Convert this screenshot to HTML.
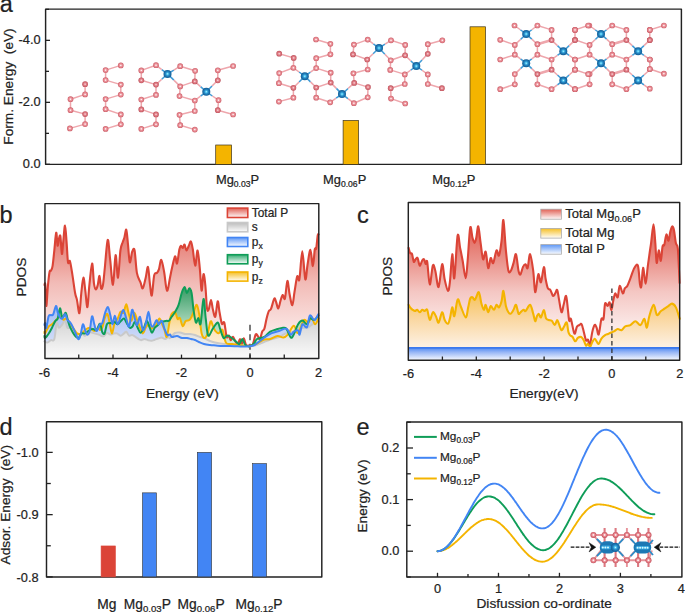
<!DOCTYPE html>
<html><head><meta charset="utf-8"><title>Figure</title>
<style>html,body{margin:0;padding:0;background:#fff;}svg{display:block;}text{font-family:"Liberation Sans",sans-serif;stroke:#222;stroke-width:0.22px;}</style>
</head><body><svg width="685" height="613" viewBox="0 0 685 613" font-family="Liberation Sans, sans-serif"><defs><radialGradient id="atomP" cx="50%" cy="50%" r="50%" fx="50%" fy="50%"><stop offset="0" stop-color="#ffffff"/><stop offset="0.16" stop-color="#fbe0e3"/><stop offset="0.36" stop-color="#ef9fa6"/><stop offset="0.76" stop-color="#e07a83"/><stop offset="1" stop-color="#c95b65"/></radialGradient><radialGradient id="atomPd" cx="50%" cy="50%" r="50%" fx="50%" fy="50%"><stop offset="0" stop-color="#fdecee"/><stop offset="0.2" stop-color="#f1b2b8"/><stop offset="0.42" stop-color="#e2838c"/><stop offset="0.8" stop-color="#d2666f"/><stop offset="1" stop-color="#b84c56"/></radialGradient><radialGradient id="atomP2" cx="50%" cy="50%" r="50%" fx="50%" fy="50%"><stop offset="0" stop-color="#ffffff"/><stop offset="0.2" stop-color="#fbe0e3"/><stop offset="0.42" stop-color="#ec969d"/><stop offset="0.78" stop-color="#d96a74"/><stop offset="1" stop-color="#bd4a55"/></radialGradient><radialGradient id="atomMg" cx="50%" cy="50%" r="50%" fx="50%" fy="50%"><stop offset="0" stop-color="#d8fbff"/><stop offset="0.18" stop-color="#5ccdf3"/><stop offset="0.5" stop-color="#2489c6"/><stop offset="1" stop-color="#125a92"/></radialGradient><linearGradient id="gbR" gradientUnits="userSpaceOnUse" x1="0" y1="218" x2="0" y2="348"><stop offset="0" stop-color="#DB4437" stop-opacity="0.86"/><stop offset="0.5" stop-color="#DB4437" stop-opacity="0.36"/><stop offset="1" stop-color="#DB4437" stop-opacity="0.05"/></linearGradient><linearGradient id="gbB" gradientUnits="userSpaceOnUse" x1="0" y1="306" x2="0" y2="358"><stop offset="0" stop-color="#a4bcf3" stop-opacity="1"/><stop offset="1" stop-color="#e6ecfb" stop-opacity="1"/></linearGradient><linearGradient id="gbG" gradientUnits="userSpaceOnUse" x1="0" y1="287" x2="0" y2="358"><stop offset="0" stop-color="#349a63" stop-opacity="1"/><stop offset="0.55" stop-color="#b3dcc2" stop-opacity="1"/><stop offset="1" stop-color="#f2f9f4" stop-opacity="1"/></linearGradient><linearGradient id="gbY" gradientUnits="userSpaceOnUse" x1="0" y1="304" x2="0" y2="358"><stop offset="0" stop-color="#f8c85a" stop-opacity="1"/><stop offset="0.5" stop-color="#fce6bd" stop-opacity="1"/><stop offset="1" stop-color="#fef8ee" stop-opacity="1"/></linearGradient><linearGradient id="gbS" gradientUnits="userSpaceOnUse" x1="0" y1="320" x2="0" y2="358"><stop offset="0" stop-color="#d4d4d4" stop-opacity="1"/><stop offset="1" stop-color="#fbfbfb" stop-opacity="1"/></linearGradient><linearGradient id="gcR" gradientUnits="userSpaceOnUse" x1="0" y1="218" x2="0" y2="352"><stop offset="0" stop-color="#DB4437" stop-opacity="0.92"/><stop offset="0.3" stop-color="#DB4437" stop-opacity="0.6"/><stop offset="0.55" stop-color="#DB4437" stop-opacity="0.3"/><stop offset="0.8" stop-color="#DB4437" stop-opacity="0.12"/><stop offset="1" stop-color="#DB4437" stop-opacity="0.04"/></linearGradient><linearGradient id="gcY" gradientUnits="userSpaceOnUse" x1="0" y1="291" x2="0" y2="360"><stop offset="0" stop-color="#f6c052" stop-opacity="1"/><stop offset="0.4" stop-color="#fad7a0" stop-opacity="1"/><stop offset="0.8" stop-color="#fdf0e2" stop-opacity="1"/><stop offset="1" stop-color="#fffaf5" stop-opacity="1"/></linearGradient><linearGradient id="gcB" gradientUnits="userSpaceOnUse" x1="0" y1="347" x2="0" y2="360"><stop offset="0" stop-color="#4482f1" stop-opacity="1"/><stop offset="0.4" stop-color="#97b6f6" stop-opacity="1"/><stop offset="1" stop-color="#f6f8fe" stop-opacity="1"/></linearGradient><linearGradient id="lgR" x1="0" y1="0" x2="0" y2="1"><stop offset="0" stop-color="#DB4437" stop-opacity="0.85"/><stop offset="1" stop-color="#DB4437" stop-opacity="0.02"/></linearGradient><linearGradient id="lgS" x1="0" y1="0" x2="0" y2="1"><stop offset="0" stop-color="#b0b0b0" stop-opacity="0.85"/><stop offset="1" stop-color="#b0b0b0" stop-opacity="0.02"/></linearGradient><linearGradient id="lgB" x1="0" y1="0" x2="0" y2="1"><stop offset="0" stop-color="#4285F4" stop-opacity="0.85"/><stop offset="1" stop-color="#4285F4" stop-opacity="0.02"/></linearGradient><linearGradient id="lgG" x1="0" y1="0" x2="0" y2="1"><stop offset="0" stop-color="#0F9D58" stop-opacity="0.85"/><stop offset="1" stop-color="#0F9D58" stop-opacity="0.02"/></linearGradient><linearGradient id="lgY" x1="0" y1="0" x2="0" y2="1"><stop offset="0" stop-color="#F4B400" stop-opacity="0.85"/><stop offset="1" stop-color="#F4B400" stop-opacity="0.02"/></linearGradient></defs><text x="-0.2" y="12.3" font-size="23.5" text-anchor="start" fill="#222222" >a</text>
<polyline points="85.1,84.2 85.1,94.4 70.5,99.2 70.5,110.2 85.1,114.1 85.1,124.1 69.9,128.4" fill="none" stroke="#eea6ac" stroke-width="1.5" stroke-linejoin="round"/>
<polyline points="120.8,65.4 105.6,70.1 105.6,80.1 120.8,84.6 120.8,94.6 105.6,99.1 105.6,109.2 120.8,114.4 120.8,124.3 105.6,128.9" fill="none" stroke="#eea6ac" stroke-width="1.5" stroke-linejoin="round"/>
<polyline points="156,65.2 141.3,70.4 141.3,80.3 156,84.6 156,94.9 141.3,99.5 141.3,109.4 156,114.4 156,124.3 141.3,128.9" fill="none" stroke="#eea6ac" stroke-width="1.5" stroke-linejoin="round"/>
<polyline points="180.2,66.2 195.1,70.8 194.8,81.4 180.2,86.4 179.5,96.1 194.8,100.5 194.8,111 179.5,114.8 180.2,125.2 194.8,129.6" fill="none" stroke="#eea6ac" stroke-width="1.5" stroke-linejoin="round"/>
<polyline points="233.1,66 217.8,70.3 217.8,80.3" fill="none" stroke="#eea6ac" stroke-width="1.5" stroke-linejoin="round"/>
<polyline points="218.5,100.2 217.8,110.2 233.1,114.5" fill="none" stroke="#eea6ac" stroke-width="1.5" stroke-linejoin="round"/>
<line x1="167.5" y1="73.9" x2="161.75" y2="69.55" stroke="#3f9bd6" stroke-width="1.5" />
<line x1="161.75" y1="69.55" x2="156" y2="65.2" stroke="#eea6ac" stroke-width="1.5" />
<line x1="167.5" y1="73.9" x2="161.75" y2="79.25" stroke="#3f9bd6" stroke-width="1.5" />
<line x1="161.75" y1="79.25" x2="156" y2="84.6" stroke="#eea6ac" stroke-width="1.5" />
<line x1="167.5" y1="73.9" x2="173.85" y2="70.05" stroke="#3f9bd6" stroke-width="1.5" />
<line x1="173.85" y1="70.05" x2="180.2" y2="66.2" stroke="#eea6ac" stroke-width="1.5" />
<line x1="167.5" y1="73.9" x2="173.85" y2="80.15" stroke="#3f9bd6" stroke-width="1.5" />
<line x1="173.85" y1="80.15" x2="180.2" y2="86.4" stroke="#eea6ac" stroke-width="1.5" />
<line x1="206.3" y1="91.8" x2="200.55" y2="86.6" stroke="#3f9bd6" stroke-width="1.5" />
<line x1="200.55" y1="86.6" x2="194.8" y2="81.4" stroke="#eea6ac" stroke-width="1.5" />
<line x1="206.3" y1="91.8" x2="200.55" y2="96.15" stroke="#3f9bd6" stroke-width="1.5" />
<line x1="200.55" y1="96.15" x2="194.8" y2="100.5" stroke="#eea6ac" stroke-width="1.5" />
<line x1="206.3" y1="91.8" x2="212.05" y2="86.05" stroke="#3f9bd6" stroke-width="1.5" />
<line x1="212.05" y1="86.05" x2="217.8" y2="80.3" stroke="#eea6ac" stroke-width="1.5" />
<line x1="206.3" y1="91.8" x2="212.4" y2="96" stroke="#3f9bd6" stroke-width="1.5" />
<line x1="212.4" y1="96" x2="218.5" y2="100.2" stroke="#eea6ac" stroke-width="1.5" />
<circle cx="85.1" cy="84.2" r="2.85" fill="url(#atomPd)"/>
<circle cx="85.1" cy="94.4" r="2.85" fill="url(#atomP)"/>
<circle cx="70.5" cy="99.2" r="2.85" fill="url(#atomP)"/>
<circle cx="70.5" cy="110.2" r="2.85" fill="url(#atomP)"/>
<circle cx="85.1" cy="114.1" r="2.85" fill="url(#atomPd)"/>
<circle cx="85.1" cy="124.1" r="2.85" fill="url(#atomP)"/>
<circle cx="69.9" cy="128.4" r="2.85" fill="url(#atomP)"/>
<circle cx="120.8" cy="65.4" r="2.85" fill="url(#atomP)"/>
<circle cx="105.6" cy="70.1" r="2.85" fill="url(#atomP)"/>
<circle cx="105.6" cy="80.1" r="2.85" fill="url(#atomP)"/>
<circle cx="120.8" cy="84.6" r="2.85" fill="url(#atomP)"/>
<circle cx="120.8" cy="94.6" r="2.85" fill="url(#atomP)"/>
<circle cx="105.6" cy="99.1" r="2.85" fill="url(#atomP)"/>
<circle cx="105.6" cy="109.2" r="2.85" fill="url(#atomP)"/>
<circle cx="120.8" cy="114.4" r="2.85" fill="url(#atomP)"/>
<circle cx="120.8" cy="124.3" r="2.85" fill="url(#atomP)"/>
<circle cx="105.6" cy="128.9" r="2.85" fill="url(#atomP)"/>
<circle cx="156" cy="65.2" r="2.85" fill="url(#atomP)"/>
<circle cx="141.3" cy="70.4" r="2.85" fill="url(#atomP)"/>
<circle cx="141.3" cy="80.3" r="2.85" fill="url(#atomPd)"/>
<circle cx="156" cy="84.6" r="2.85" fill="url(#atomPd)"/>
<circle cx="156" cy="94.9" r="2.85" fill="url(#atomP)"/>
<circle cx="141.3" cy="99.5" r="2.85" fill="url(#atomP)"/>
<circle cx="141.3" cy="109.4" r="2.85" fill="url(#atomPd)"/>
<circle cx="156" cy="114.4" r="2.85" fill="url(#atomPd)"/>
<circle cx="156" cy="124.3" r="2.85" fill="url(#atomP)"/>
<circle cx="141.3" cy="128.9" r="2.85" fill="url(#atomP)"/>
<circle cx="180.2" cy="66.2" r="2.85" fill="url(#atomP)"/>
<circle cx="195.1" cy="70.8" r="2.85" fill="url(#atomP)"/>
<circle cx="194.8" cy="81.4" r="2.85" fill="url(#atomPd)"/>
<circle cx="180.2" cy="86.4" r="2.85" fill="url(#atomP)"/>
<circle cx="179.5" cy="96.1" r="2.85" fill="url(#atomP)"/>
<circle cx="194.8" cy="100.5" r="2.85" fill="url(#atomP)"/>
<circle cx="194.8" cy="111" r="2.85" fill="url(#atomP)"/>
<circle cx="179.5" cy="114.8" r="2.85" fill="url(#atomP)"/>
<circle cx="180.2" cy="125.2" r="2.85" fill="url(#atomP)"/>
<circle cx="194.8" cy="129.6" r="2.85" fill="url(#atomP)"/>
<circle cx="233.1" cy="66" r="2.85" fill="url(#atomP)"/>
<circle cx="217.8" cy="70.3" r="2.85" fill="url(#atomP)"/>
<circle cx="217.8" cy="80.3" r="2.85" fill="url(#atomPd)"/>
<circle cx="218.5" cy="100.2" r="2.85" fill="url(#atomP)"/>
<circle cx="217.8" cy="110.2" r="2.85" fill="url(#atomPd)"/>
<circle cx="233.1" cy="114.5" r="2.85" fill="url(#atomP)"/>
<circle cx="167.5" cy="73.9" r="4.0" fill="url(#atomMg)"/>
<circle cx="206.3" cy="91.8" r="4.0" fill="url(#atomMg)"/>
<polyline points="279.2,53.7 293.7,57.9 293.4,67.8 279.2,73.1 278.9,83.2 293.4,87.8 293.4,97.7 278.9,101.6" fill="none" stroke="#eea6ac" stroke-width="1.5" stroke-linejoin="round"/>
<polyline points="316,39.5 330.4,43.8 330.4,54.3 316.2,58.2 316.2,68.1 330.7,72.7 330.7,82.6 316.2,87.5 316.2,97.7 330.2,102.3" fill="none" stroke="#eea6ac" stroke-width="1.5" stroke-linejoin="round"/>
<polyline points="367.7,39.6 353.9,44.6 353,54.4 367.2,59.5 367.7,69.5 353.4,73.3 354.2,82.9 368,87.1 367.7,97.3 353.9,103.2" fill="none" stroke="#eea6ac" stroke-width="1.5" stroke-linejoin="round"/>
<polyline points="391,40.3 405.2,44.9 405.1,55.3 390.7,60.3 390.2,69.9 404.8,74.4 404.8,84 390.7,88.2 391,98.6 405.2,103.5" fill="none" stroke="#eea6ac" stroke-width="1.5" stroke-linejoin="round"/>
<polyline points="442.3,40.3 427.8,44.2 427.8,53.8" fill="none" stroke="#eea6ac" stroke-width="1.5" stroke-linejoin="round"/>
<polyline points="427.8,74.4 427.8,84 441.9,88.2" fill="none" stroke="#eea6ac" stroke-width="1.5" stroke-linejoin="round"/>
<line x1="304.8" y1="76.2" x2="299.1" y2="72" stroke="#3f9bd6" stroke-width="1.5" />
<line x1="299.1" y1="72" x2="293.4" y2="67.8" stroke="#eea6ac" stroke-width="1.5" />
<line x1="304.8" y1="76.2" x2="310.5" y2="72.15" stroke="#3f9bd6" stroke-width="1.5" />
<line x1="310.5" y1="72.15" x2="316.2" y2="68.1" stroke="#eea6ac" stroke-width="1.5" />
<line x1="304.8" y1="76.2" x2="299.1" y2="82" stroke="#3f9bd6" stroke-width="1.5" />
<line x1="299.1" y1="82" x2="293.4" y2="87.8" stroke="#eea6ac" stroke-width="1.5" />
<line x1="304.8" y1="76.2" x2="310.5" y2="81.85" stroke="#3f9bd6" stroke-width="1.5" />
<line x1="310.5" y1="81.85" x2="316.2" y2="87.5" stroke="#eea6ac" stroke-width="1.5" />
<line x1="342" y1="94.1" x2="336.35" y2="88.35" stroke="#3f9bd6" stroke-width="1.5" />
<line x1="336.35" y1="88.35" x2="330.7" y2="82.6" stroke="#eea6ac" stroke-width="1.5" />
<line x1="342" y1="94.1" x2="348.1" y2="88.5" stroke="#3f9bd6" stroke-width="1.5" />
<line x1="348.1" y1="88.5" x2="354.2" y2="82.9" stroke="#eea6ac" stroke-width="1.5" />
<line x1="342" y1="94.1" x2="336.1" y2="98.2" stroke="#3f9bd6" stroke-width="1.5" />
<line x1="336.1" y1="98.2" x2="330.2" y2="102.3" stroke="#eea6ac" stroke-width="1.5" />
<line x1="342" y1="94.1" x2="347.95" y2="98.65" stroke="#3f9bd6" stroke-width="1.5" />
<line x1="347.95" y1="98.65" x2="353.9" y2="103.2" stroke="#eea6ac" stroke-width="1.5" />
<line x1="379" y1="48" x2="373.35" y2="43.8" stroke="#3f9bd6" stroke-width="1.5" />
<line x1="373.35" y1="43.8" x2="367.7" y2="39.6" stroke="#eea6ac" stroke-width="1.5" />
<line x1="379" y1="48" x2="373.1" y2="53.75" stroke="#3f9bd6" stroke-width="1.5" />
<line x1="373.1" y1="53.75" x2="367.2" y2="59.5" stroke="#eea6ac" stroke-width="1.5" />
<line x1="379" y1="48" x2="385" y2="44.15" stroke="#3f9bd6" stroke-width="1.5" />
<line x1="385" y1="44.15" x2="391" y2="40.3" stroke="#eea6ac" stroke-width="1.5" />
<line x1="379" y1="48" x2="384.85" y2="54.15" stroke="#3f9bd6" stroke-width="1.5" />
<line x1="384.85" y1="54.15" x2="390.7" y2="60.3" stroke="#eea6ac" stroke-width="1.5" />
<line x1="416.3" y1="66.1" x2="410.7" y2="60.7" stroke="#3f9bd6" stroke-width="1.5" />
<line x1="410.7" y1="60.7" x2="405.1" y2="55.3" stroke="#eea6ac" stroke-width="1.5" />
<line x1="416.3" y1="66.1" x2="410.55" y2="70.25" stroke="#3f9bd6" stroke-width="1.5" />
<line x1="410.55" y1="70.25" x2="404.8" y2="74.4" stroke="#eea6ac" stroke-width="1.5" />
<line x1="416.3" y1="66.1" x2="422.05" y2="59.95" stroke="#3f9bd6" stroke-width="1.5" />
<line x1="422.05" y1="59.95" x2="427.8" y2="53.8" stroke="#eea6ac" stroke-width="1.5" />
<line x1="416.3" y1="66.1" x2="422.05" y2="70.25" stroke="#3f9bd6" stroke-width="1.5" />
<line x1="422.05" y1="70.25" x2="427.8" y2="74.4" stroke="#eea6ac" stroke-width="1.5" />
<circle cx="279.2" cy="53.7" r="2.85" fill="url(#atomPd)"/>
<circle cx="293.7" cy="57.9" r="2.85" fill="url(#atomPd)"/>
<circle cx="293.4" cy="67.8" r="2.85" fill="url(#atomP)"/>
<circle cx="279.2" cy="73.1" r="2.85" fill="url(#atomP)"/>
<circle cx="278.9" cy="83.2" r="2.85" fill="url(#atomP)"/>
<circle cx="293.4" cy="87.8" r="2.85" fill="url(#atomPd)"/>
<circle cx="293.4" cy="97.7" r="2.85" fill="url(#atomP)"/>
<circle cx="278.9" cy="101.6" r="2.85" fill="url(#atomP)"/>
<circle cx="316" cy="39.5" r="2.85" fill="url(#atomP)"/>
<circle cx="330.4" cy="43.8" r="2.85" fill="url(#atomP)"/>
<circle cx="330.4" cy="54.3" r="2.85" fill="url(#atomP)"/>
<circle cx="316.2" cy="58.2" r="2.85" fill="url(#atomP)"/>
<circle cx="316.2" cy="68.1" r="2.85" fill="url(#atomP)"/>
<circle cx="330.7" cy="72.7" r="2.85" fill="url(#atomP)"/>
<circle cx="330.7" cy="82.6" r="2.85" fill="url(#atomPd)"/>
<circle cx="316.2" cy="87.5" r="2.85" fill="url(#atomPd)"/>
<circle cx="316.2" cy="97.7" r="2.85" fill="url(#atomP)"/>
<circle cx="330.2" cy="102.3" r="2.85" fill="url(#atomP)"/>
<circle cx="367.7" cy="39.6" r="2.85" fill="url(#atomP)"/>
<circle cx="353.9" cy="44.6" r="2.85" fill="url(#atomP)"/>
<circle cx="353" cy="54.4" r="2.85" fill="url(#atomPd)"/>
<circle cx="367.2" cy="59.5" r="2.85" fill="url(#atomPd)"/>
<circle cx="367.7" cy="69.5" r="2.85" fill="url(#atomP)"/>
<circle cx="353.4" cy="73.3" r="2.85" fill="url(#atomP)"/>
<circle cx="354.2" cy="82.9" r="2.85" fill="url(#atomPd)"/>
<circle cx="368" cy="87.1" r="2.85" fill="url(#atomPd)"/>
<circle cx="367.7" cy="97.3" r="2.85" fill="url(#atomP)"/>
<circle cx="353.9" cy="103.2" r="2.85" fill="url(#atomP)"/>
<circle cx="391" cy="40.3" r="2.85" fill="url(#atomP)"/>
<circle cx="405.2" cy="44.9" r="2.85" fill="url(#atomP)"/>
<circle cx="405.1" cy="55.3" r="2.85" fill="url(#atomPd)"/>
<circle cx="390.7" cy="60.3" r="2.85" fill="url(#atomP)"/>
<circle cx="390.2" cy="69.9" r="2.85" fill="url(#atomP)"/>
<circle cx="404.8" cy="74.4" r="2.85" fill="url(#atomP)"/>
<circle cx="404.8" cy="84" r="2.85" fill="url(#atomP)"/>
<circle cx="390.7" cy="88.2" r="2.85" fill="url(#atomPd)"/>
<circle cx="391" cy="98.6" r="2.85" fill="url(#atomP)"/>
<circle cx="405.2" cy="103.5" r="2.85" fill="url(#atomP)"/>
<circle cx="442.3" cy="40.3" r="2.85" fill="url(#atomP)"/>
<circle cx="427.8" cy="44.2" r="2.85" fill="url(#atomP)"/>
<circle cx="427.8" cy="53.8" r="2.85" fill="url(#atomPd)"/>
<circle cx="427.8" cy="74.4" r="2.85" fill="url(#atomP)"/>
<circle cx="427.8" cy="84" r="2.85" fill="url(#atomP)"/>
<circle cx="441.9" cy="88.2" r="2.85" fill="url(#atomPd)"/>
<circle cx="304.8" cy="76.2" r="4.0" fill="url(#atomMg)"/>
<circle cx="342" cy="94.1" r="4.0" fill="url(#atomMg)"/>
<circle cx="379" cy="48" r="4.0" fill="url(#atomMg)"/>
<circle cx="416.3" cy="66.1" r="4.0" fill="url(#atomMg)"/>
<polyline points="514.5,25.5" fill="none" stroke="#eea6ac" stroke-width="1.5" stroke-linejoin="round"/>
<polyline points="537.4,25.5 551.6,29.9 551.6,40.1 537.4,44.2 537.4,54.7 551.6,59.5 551.6,69.7 537.4,74.1 537.4,84.3 551.6,89.2" fill="none" stroke="#eea6ac" stroke-width="1.5" stroke-linejoin="round"/>
<polyline points="500.2,39.8 514.8,44.9 514.8,54.7 500.2,59.5" fill="none" stroke="#eea6ac" stroke-width="1.5" stroke-linejoin="round"/>
<polyline points="514.8,74.1 514.8,84.3 500.2,89.2" fill="none" stroke="#eea6ac" stroke-width="1.5" stroke-linejoin="round"/>
<polyline points="589.3,25.5" fill="none" stroke="#eea6ac" stroke-width="1.5" stroke-linejoin="round"/>
<polyline points="612.2,25.5 626.4,29.9 626.4,40.1 612.2,44.2 612.2,54.7 626.4,59.5 626.4,69.7 612.2,74.1 612.2,84.3 626.4,89.2" fill="none" stroke="#eea6ac" stroke-width="1.5" stroke-linejoin="round"/>
<polyline points="575,39.8 589.6,44.9 589.6,54.7 575,59.5" fill="none" stroke="#eea6ac" stroke-width="1.5" stroke-linejoin="round"/>
<polyline points="589.6,74.1 589.6,84.3 575,89.2" fill="none" stroke="#eea6ac" stroke-width="1.5" stroke-linejoin="round"/>
<polyline points="575,29.9 588.1,25.5" fill="none" stroke="#eea6ac" stroke-width="1.5" stroke-linejoin="round"/>
<polyline points="649.8,29.9 663.9,25.5" fill="none" stroke="#eea6ac" stroke-width="1.5" stroke-linejoin="round"/>
<polyline points="575,69.7 588.1,74.1" fill="none" stroke="#eea6ac" stroke-width="1.5" stroke-linejoin="round"/>
<polyline points="649.8,69 663.9,73.7" fill="none" stroke="#eea6ac" stroke-width="1.5" stroke-linejoin="round"/>
<polyline points="649.8,29.9 649.8,40.1" fill="none" stroke="#eea6ac" stroke-width="1.5" stroke-linejoin="round"/>
<polyline points="649.8,59.5 649.8,69" fill="none" stroke="#eea6ac" stroke-width="1.5" stroke-linejoin="round"/>
<polyline points="575,29.9 575,40.1" fill="none" stroke="#eea6ac" stroke-width="1.5" stroke-linejoin="round"/>
<polyline points="575,59.5 575,69.7" fill="none" stroke="#eea6ac" stroke-width="1.5" stroke-linejoin="round"/>
<polyline points="649.8,88.7" fill="none" stroke="#eea6ac" stroke-width="1.5" stroke-linejoin="round"/>
<polyline points="575,89.2" fill="none" stroke="#eea6ac" stroke-width="1.5" stroke-linejoin="round"/>
<polyline points="649.8,40.1" fill="none" stroke="#eea6ac" stroke-width="1.5" stroke-linejoin="round"/>
<polyline points="649.8,59.5" fill="none" stroke="#eea6ac" stroke-width="1.5" stroke-linejoin="round"/>
<line x1="537.4" y1="44.2" x2="551.6" y2="40.1" stroke="#eea6ac" stroke-width="2.6" />
<line x1="537.4" y1="74.1" x2="551.6" y2="69.7" stroke="#eea6ac" stroke-width="2.6" />
<line x1="612.2" y1="44.2" x2="626.4" y2="40.1" stroke="#eea6ac" stroke-width="2.6" />
<line x1="612.2" y1="74.1" x2="626.4" y2="69.7" stroke="#eea6ac" stroke-width="2.6" />
<line x1="526.2" y1="34" x2="520.35" y2="29.75" stroke="#3f9bd6" stroke-width="1.5" />
<line x1="520.35" y1="29.75" x2="514.5" y2="25.5" stroke="#eea6ac" stroke-width="1.5" />
<line x1="526.2" y1="34" x2="531.8" y2="29.75" stroke="#3f9bd6" stroke-width="1.5" />
<line x1="531.8" y1="29.75" x2="537.4" y2="25.5" stroke="#eea6ac" stroke-width="1.5" />
<line x1="526.2" y1="34" x2="520.5" y2="39.45" stroke="#3f9bd6" stroke-width="1.5" />
<line x1="520.5" y1="39.45" x2="514.8" y2="44.9" stroke="#eea6ac" stroke-width="1.5" />
<line x1="526.2" y1="34" x2="531.8" y2="39.1" stroke="#3f9bd6" stroke-width="1.5" />
<line x1="531.8" y1="39.1" x2="537.4" y2="44.2" stroke="#eea6ac" stroke-width="1.5" />
<line x1="526.2" y1="63.2" x2="520.5" y2="58.95" stroke="#3f9bd6" stroke-width="1.5" />
<line x1="520.5" y1="58.95" x2="514.8" y2="54.7" stroke="#eea6ac" stroke-width="1.5" />
<line x1="526.2" y1="63.2" x2="531.8" y2="58.95" stroke="#3f9bd6" stroke-width="1.5" />
<line x1="531.8" y1="58.95" x2="537.4" y2="54.7" stroke="#eea6ac" stroke-width="1.5" />
<line x1="526.2" y1="63.2" x2="520.5" y2="68.65" stroke="#3f9bd6" stroke-width="1.5" />
<line x1="520.5" y1="68.65" x2="514.8" y2="74.1" stroke="#eea6ac" stroke-width="1.5" />
<line x1="526.2" y1="63.2" x2="531.8" y2="68.65" stroke="#3f9bd6" stroke-width="1.5" />
<line x1="531.8" y1="68.65" x2="537.4" y2="74.1" stroke="#eea6ac" stroke-width="1.5" />
<line x1="563.3" y1="51.2" x2="557.45" y2="45.65" stroke="#3f9bd6" stroke-width="1.5" />
<line x1="557.45" y1="45.65" x2="551.6" y2="40.1" stroke="#eea6ac" stroke-width="1.5" />
<line x1="563.3" y1="51.2" x2="569.15" y2="45.65" stroke="#3f9bd6" stroke-width="1.5" />
<line x1="569.15" y1="45.65" x2="575" y2="40.1" stroke="#eea6ac" stroke-width="1.5" />
<line x1="563.3" y1="51.2" x2="557.45" y2="55.35" stroke="#3f9bd6" stroke-width="1.5" />
<line x1="557.45" y1="55.35" x2="551.6" y2="59.5" stroke="#eea6ac" stroke-width="1.5" />
<line x1="563.3" y1="51.2" x2="569.15" y2="55.35" stroke="#3f9bd6" stroke-width="1.5" />
<line x1="569.15" y1="55.35" x2="575" y2="59.5" stroke="#eea6ac" stroke-width="1.5" />
<line x1="563.3" y1="80.4" x2="557.45" y2="75.05" stroke="#3f9bd6" stroke-width="1.5" />
<line x1="557.45" y1="75.05" x2="551.6" y2="69.7" stroke="#eea6ac" stroke-width="1.5" />
<line x1="563.3" y1="80.4" x2="569.15" y2="75.05" stroke="#3f9bd6" stroke-width="1.5" />
<line x1="569.15" y1="75.05" x2="575" y2="69.7" stroke="#eea6ac" stroke-width="1.5" />
<line x1="563.3" y1="80.4" x2="557.45" y2="84.8" stroke="#3f9bd6" stroke-width="1.5" />
<line x1="557.45" y1="84.8" x2="551.6" y2="89.2" stroke="#eea6ac" stroke-width="1.5" />
<line x1="563.3" y1="80.4" x2="569.15" y2="84.8" stroke="#3f9bd6" stroke-width="1.5" />
<line x1="569.15" y1="84.8" x2="575" y2="89.2" stroke="#eea6ac" stroke-width="1.5" />
<line x1="601" y1="34" x2="595.15" y2="29.75" stroke="#3f9bd6" stroke-width="1.5" />
<line x1="595.15" y1="29.75" x2="589.3" y2="25.5" stroke="#eea6ac" stroke-width="1.5" />
<line x1="601" y1="34" x2="606.6" y2="29.75" stroke="#3f9bd6" stroke-width="1.5" />
<line x1="606.6" y1="29.75" x2="612.2" y2="25.5" stroke="#eea6ac" stroke-width="1.5" />
<line x1="601" y1="34" x2="595.3" y2="39.45" stroke="#3f9bd6" stroke-width="1.5" />
<line x1="595.3" y1="39.45" x2="589.6" y2="44.9" stroke="#eea6ac" stroke-width="1.5" />
<line x1="601" y1="34" x2="606.6" y2="39.1" stroke="#3f9bd6" stroke-width="1.5" />
<line x1="606.6" y1="39.1" x2="612.2" y2="44.2" stroke="#eea6ac" stroke-width="1.5" />
<line x1="601" y1="63.2" x2="595.3" y2="58.95" stroke="#3f9bd6" stroke-width="1.5" />
<line x1="595.3" y1="58.95" x2="589.6" y2="54.7" stroke="#eea6ac" stroke-width="1.5" />
<line x1="601" y1="63.2" x2="606.6" y2="58.95" stroke="#3f9bd6" stroke-width="1.5" />
<line x1="606.6" y1="58.95" x2="612.2" y2="54.7" stroke="#eea6ac" stroke-width="1.5" />
<line x1="601" y1="63.2" x2="595.3" y2="68.65" stroke="#3f9bd6" stroke-width="1.5" />
<line x1="595.3" y1="68.65" x2="589.6" y2="74.1" stroke="#eea6ac" stroke-width="1.5" />
<line x1="601" y1="63.2" x2="606.6" y2="68.65" stroke="#3f9bd6" stroke-width="1.5" />
<line x1="606.6" y1="68.65" x2="612.2" y2="74.1" stroke="#eea6ac" stroke-width="1.5" />
<line x1="638.1" y1="51.2" x2="632.25" y2="45.65" stroke="#3f9bd6" stroke-width="1.5" />
<line x1="632.25" y1="45.65" x2="626.4" y2="40.1" stroke="#eea6ac" stroke-width="1.5" />
<line x1="638.1" y1="51.2" x2="643.95" y2="45.65" stroke="#3f9bd6" stroke-width="1.5" />
<line x1="643.95" y1="45.65" x2="649.8" y2="40.1" stroke="#eea6ac" stroke-width="1.5" />
<line x1="638.1" y1="51.2" x2="632.25" y2="55.35" stroke="#3f9bd6" stroke-width="1.5" />
<line x1="632.25" y1="55.35" x2="626.4" y2="59.5" stroke="#eea6ac" stroke-width="1.5" />
<line x1="638.1" y1="51.2" x2="643.95" y2="55.35" stroke="#3f9bd6" stroke-width="1.5" />
<line x1="643.95" y1="55.35" x2="649.8" y2="59.5" stroke="#eea6ac" stroke-width="1.5" />
<line x1="638.1" y1="80.4" x2="632.25" y2="75.05" stroke="#3f9bd6" stroke-width="1.5" />
<line x1="632.25" y1="75.05" x2="626.4" y2="69.7" stroke="#eea6ac" stroke-width="1.5" />
<line x1="638.1" y1="80.4" x2="643.95" y2="75.05" stroke="#3f9bd6" stroke-width="1.5" />
<line x1="643.95" y1="75.05" x2="649.8" y2="69.7" stroke="#eea6ac" stroke-width="1.5" />
<line x1="638.1" y1="80.4" x2="632.25" y2="84.8" stroke="#3f9bd6" stroke-width="1.5" />
<line x1="632.25" y1="84.8" x2="626.4" y2="89.2" stroke="#eea6ac" stroke-width="1.5" />
<line x1="638.1" y1="80.4" x2="643.95" y2="84.8" stroke="#3f9bd6" stroke-width="1.5" />
<line x1="643.95" y1="84.8" x2="649.8" y2="89.2" stroke="#eea6ac" stroke-width="1.5" />
<circle cx="514.5" cy="25.5" r="2.85" fill="url(#atomP)"/>
<circle cx="537.4" cy="25.5" r="2.85" fill="url(#atomP)"/>
<circle cx="551.6" cy="29.9" r="2.85" fill="url(#atomP)"/>
<circle cx="551.6" cy="40.1" r="2.85" fill="url(#atomPd)"/>
<circle cx="537.4" cy="44.2" r="2.85" fill="url(#atomP)"/>
<circle cx="537.4" cy="54.7" r="2.85" fill="url(#atomP)"/>
<circle cx="551.6" cy="59.5" r="2.85" fill="url(#atomP)"/>
<circle cx="551.6" cy="69.7" r="2.85" fill="url(#atomPd)"/>
<circle cx="537.4" cy="74.1" r="2.85" fill="url(#atomPd)"/>
<circle cx="537.4" cy="84.3" r="2.85" fill="url(#atomP)"/>
<circle cx="551.6" cy="89.2" r="2.85" fill="url(#atomP)"/>
<circle cx="500.2" cy="39.8" r="2.85" fill="url(#atomP)"/>
<circle cx="514.8" cy="44.9" r="2.85" fill="url(#atomP)"/>
<circle cx="514.8" cy="54.7" r="2.85" fill="url(#atomP)"/>
<circle cx="500.2" cy="59.5" r="2.85" fill="url(#atomP)"/>
<circle cx="514.8" cy="74.1" r="2.85" fill="url(#atomP)"/>
<circle cx="514.8" cy="84.3" r="2.85" fill="url(#atomP)"/>
<circle cx="500.2" cy="89.2" r="2.85" fill="url(#atomP)"/>
<circle cx="589.3" cy="25.5" r="2.85" fill="url(#atomP)"/>
<circle cx="612.2" cy="25.5" r="2.85" fill="url(#atomP)"/>
<circle cx="626.4" cy="29.9" r="2.85" fill="url(#atomP)"/>
<circle cx="626.4" cy="40.1" r="2.85" fill="url(#atomPd)"/>
<circle cx="612.2" cy="44.2" r="2.85" fill="url(#atomP)"/>
<circle cx="612.2" cy="54.7" r="2.85" fill="url(#atomP)"/>
<circle cx="626.4" cy="59.5" r="2.85" fill="url(#atomP)"/>
<circle cx="626.4" cy="69.7" r="2.85" fill="url(#atomPd)"/>
<circle cx="612.2" cy="74.1" r="2.85" fill="url(#atomPd)"/>
<circle cx="612.2" cy="84.3" r="2.85" fill="url(#atomP)"/>
<circle cx="626.4" cy="89.2" r="2.85" fill="url(#atomP)"/>
<circle cx="575" cy="39.8" r="2.85" fill="url(#atomP)"/>
<circle cx="589.6" cy="44.9" r="2.85" fill="url(#atomP)"/>
<circle cx="589.6" cy="54.7" r="2.85" fill="url(#atomP)"/>
<circle cx="575" cy="59.5" r="2.85" fill="url(#atomP)"/>
<circle cx="589.6" cy="74.1" r="2.85" fill="url(#atomP)"/>
<circle cx="589.6" cy="84.3" r="2.85" fill="url(#atomP)"/>
<circle cx="575" cy="89.2" r="2.85" fill="url(#atomP)"/>
<circle cx="575" cy="29.9" r="2.85" fill="url(#atomP)"/>
<circle cx="588.1" cy="25.5" r="2.85" fill="url(#atomP)"/>
<circle cx="649.8" cy="29.9" r="2.85" fill="url(#atomP)"/>
<circle cx="663.9" cy="25.5" r="2.85" fill="url(#atomP)"/>
<circle cx="575" cy="69.7" r="2.85" fill="url(#atomP)"/>
<circle cx="588.1" cy="74.1" r="2.85" fill="url(#atomP)"/>
<circle cx="649.8" cy="69" r="2.85" fill="url(#atomP)"/>
<circle cx="663.9" cy="73.7" r="2.85" fill="url(#atomP)"/>
<circle cx="649.8" cy="29.9" r="2.85" fill="url(#atomP)"/>
<circle cx="649.8" cy="40.1" r="2.85" fill="url(#atomPd)"/>
<circle cx="649.8" cy="59.5" r="2.85" fill="url(#atomP)"/>
<circle cx="649.8" cy="69" r="2.85" fill="url(#atomP)"/>
<circle cx="575" cy="29.9" r="2.85" fill="url(#atomP)"/>
<circle cx="575" cy="40.1" r="2.85" fill="url(#atomPd)"/>
<circle cx="575" cy="59.5" r="2.85" fill="url(#atomP)"/>
<circle cx="575" cy="69.7" r="2.85" fill="url(#atomP)"/>
<circle cx="649.8" cy="88.7" r="2.85" fill="url(#atomP)"/>
<circle cx="575" cy="89.2" r="2.85" fill="url(#atomP)"/>
<circle cx="649.8" cy="40.1" r="2.85" fill="url(#atomPd)"/>
<circle cx="649.8" cy="59.5" r="2.85" fill="url(#atomP)"/>
<circle cx="526.2" cy="34" r="4.0" fill="url(#atomMg)"/>
<circle cx="526.2" cy="63.2" r="4.0" fill="url(#atomMg)"/>
<circle cx="563.3" cy="51.2" r="4.0" fill="url(#atomMg)"/>
<circle cx="563.3" cy="80.4" r="4.0" fill="url(#atomMg)"/>
<circle cx="601" cy="34" r="4.0" fill="url(#atomMg)"/>
<circle cx="601" cy="63.2" r="4.0" fill="url(#atomMg)"/>
<circle cx="638.1" cy="51.2" r="4.0" fill="url(#atomMg)"/>
<circle cx="638.1" cy="80.4" r="4.0" fill="url(#atomMg)"/>
<rect x="45.6" y="9.1" width="635.8" height="155.25" stroke="#222222" stroke-width="1.45" fill="none" stroke-linejoin="round"/>
<line x1="45.6" y1="164.35" x2="50" y2="164.35" stroke="#222222" stroke-width="1.3" />
<text x="40.6" y="167.95" font-size="12.8" text-anchor="end" fill="#222222" >0.0</text>
<line x1="45.6" y1="133.35" x2="49" y2="133.35" stroke="#222222" stroke-width="1.3" />
<line x1="45.6" y1="102.35" x2="50" y2="102.35" stroke="#222222" stroke-width="1.3" />
<text x="40.6" y="105.95" font-size="12.8" text-anchor="end" fill="#222222" >-2.0</text>
<line x1="45.6" y1="71.35" x2="49" y2="71.35" stroke="#222222" stroke-width="1.3" />
<line x1="45.6" y1="40.35" x2="50" y2="40.35" stroke="#222222" stroke-width="1.3" />
<text x="40.6" y="43.95" font-size="12.8" text-anchor="end" fill="#222222" >-4.0</text>
<line x1="45.6" y1="9.35" x2="49" y2="9.35" stroke="#222222" stroke-width="1.3" />
<text transform="translate(12.8,86.5) rotate(-90)" text-anchor="middle" font-size="13.7" fill="#222222" xml:space="preserve">Form. Energy  (eV)</text>
<rect x="215.7" y="145" width="15.9" height="19.35" stroke="#3d3522" stroke-width="0.7" fill="#F4B400" />
<rect x="343.1" y="120.4" width="15.5" height="43.95" stroke="#3d3522" stroke-width="0.7" fill="#F4B400" />
<rect x="470" y="26.8" width="15.6" height="137.55" stroke="#3d3522" stroke-width="0.7" fill="#F4B400" />
<text x="215.9" y="183.9" font-size="12.9" fill="#222222" >Mg<tspan font-size="8.6" dy="3.0">0.03</tspan><tspan dy="-3.0">P</tspan></text>
<text x="323" y="183.9" font-size="12.9" fill="#222222" >Mg<tspan font-size="8.6" dy="3.0">0.06</tspan><tspan dy="-3.0">P</tspan></text>
<text x="432.2" y="183.9" font-size="12.9" fill="#222222" >Mg<tspan font-size="8.6" dy="3.0">0.12</tspan><tspan dy="-3.0">P</tspan></text>
<text x="-0.6" y="222.6" font-size="23.5" text-anchor="start" fill="#222222" >b</text>
<path d="M44.5,285 C44.63,284.97 45,281.3 45.3,284.8 C45.6,288.3 45.87,305.8 46.3,306 C46.73,306.2 47.35,291.7 47.9,286 C48.45,280.3 49.08,274.37 49.6,271.8 C50.12,269.23 50.5,271.6 51,270.6 C51.5,269.6 52.05,269.15 52.6,265.8 C53.15,262.45 53.7,256.02 54.3,250.5 C54.9,244.98 55.65,233.5 56.2,232.7 C56.75,231.9 57.13,244.72 57.6,245.7 C58.07,246.68 58.53,240.17 59,238.6 C59.47,237.03 59.92,233.73 60.4,236.3 C60.88,238.87 61.42,253.22 61.9,254 C62.38,254.78 62.78,245.73 63.3,241 C63.82,236.27 64.45,225.4 65,225.6 C65.55,225.8 66.1,236.08 66.6,242.2 C67.1,248.32 67.45,259.15 68,262.3 C68.55,265.45 69.18,259.13 69.9,261.1 C70.62,263.07 71.43,268.78 72.3,274.1 C73.17,279.42 74.32,288.67 75.1,293 C75.88,297.33 76.28,296.75 77,300.1 C77.72,303.45 78.68,314.28 79.4,313.1 C80.12,311.92 80.63,298.9 81.3,293 C81.97,287.1 82.73,278.08 83.4,277.7 C84.07,277.32 84.63,285.78 85.3,290.7 C85.97,295.62 86.73,308 87.4,307.2 C88.07,306.4 88.52,293.18 89.3,285.9 C90.08,278.62 91.32,263.88 92.1,263.5 C92.88,263.12 93.37,279.27 94,283.6 C94.63,287.93 95.27,289.3 95.9,289.5 C96.53,289.7 97.2,287.05 97.8,284.8 C98.4,282.55 98.95,275.42 99.5,276 C100.05,276.58 100.52,286.83 101.1,288.3 C101.68,289.77 102.37,288.35 103,284.8 C103.63,281.25 104.12,274.5 104.9,267 C105.68,259.5 106.82,240.98 107.7,239.8 C108.58,238.62 109.32,252.4 110.2,259.9 C111.08,267.4 112.1,285.58 113,284.8 C113.9,284.02 114.77,256.38 115.6,255.2 C116.43,254.02 117.2,278.48 118,277.7 C118.8,276.92 119.62,256.42 120.4,250.5 C121.18,244.58 122.03,244.37 122.7,242.2 C123.37,240.03 123.8,239.58 124.4,237.5 C125,235.42 125.72,228.72 126.3,229.7 C126.88,230.68 127.32,237.97 127.9,243.4 C128.48,248.83 129.08,260.92 129.8,262.3 C130.52,263.68 131.4,253.67 132.2,251.7 C133,249.73 133.82,246.97 134.6,250.5 C135.38,254.03 135.92,267.58 136.9,272.9 C137.88,278.22 139.52,279.83 140.5,282.4 C141.48,284.97 141.93,289.08 142.8,288.3 C143.67,287.52 144.83,281.25 145.7,277.7 C146.57,274.15 147.3,266.02 148,267 C148.7,267.98 149.27,278.87 149.9,283.6 C150.53,288.33 151.08,296.78 151.8,295.4 C152.52,294.02 153.33,279.05 154.2,275.3 C155.07,271.55 156.22,273.88 157,272.9 C157.78,271.92 158.18,271.57 158.9,269.4 C159.62,267.23 160.43,259.5 161.3,259.9 C162.17,260.3 163.15,266.67 164.1,271.8 C165.05,276.93 166.02,289.72 167,290.7 C167.98,291.68 169.17,281.48 170,277.7 C170.83,273.92 171.15,271.55 172,268 C172.85,264.45 174.27,257.15 175.1,256.4 C175.93,255.65 176.28,264.68 177,263.5 C177.72,262.32 178.73,252.27 179.4,249.3 C180.07,246.33 180.45,245.92 181,245.7 C181.55,245.48 182.1,248.18 182.7,248 C183.3,247.82 183.98,244.18 184.6,244.6 C185.22,245.02 185.7,250.32 186.4,250.5 C187.1,250.68 188.05,247.2 188.8,245.7 C189.55,244.2 190.23,240.9 190.9,241.5 C191.57,242.1 192.08,245.25 192.8,249.3 C193.52,253.35 194.4,265.6 195.2,265.8 C196,266 196.82,249.9 197.6,250.5 C198.38,251.1 199.23,262.7 199.9,269.4 C200.57,276.1 201,289.92 201.6,290.7 C202.2,291.48 202.87,274.88 203.5,274.1 C204.13,273.32 204.82,280.28 205.4,286 C205.98,291.72 206.45,304.47 207,308.4 C207.55,312.33 208.03,310.98 208.7,309.6 C209.37,308.22 210.3,300.1 211,300.1 C211.7,300.1 212.18,306.83 212.9,309.6 C213.62,312.37 214.5,318.08 215.3,316.7 C216.1,315.32 217,302.08 217.7,301.3 C218.4,300.52 218.8,308.25 219.5,312 C220.2,315.75 221.1,322.03 221.9,323.8 C222.7,325.57 223.52,320.43 224.3,322.6 C225.08,324.77 225.82,334.63 226.6,336.8 C227.38,338.97 228.32,335.02 229,335.6 C229.68,336.18 230.03,340.1 230.7,340.3 C231.37,340.5 232.22,336.6 233,336.8 C233.78,337 234.58,340.28 235.4,341.5 C236.22,342.72 237.13,344.52 237.9,344.1 C238.67,343.68 239.38,338.87 240,339 C240.62,339.13 240.97,345.02 241.6,344.9 C242.23,344.78 243.07,338.3 243.8,338.3 C244.53,338.3 245.13,343.68 246,344.9 C246.87,346.12 247.9,345.6 249,345.6 C250.1,345.6 251.5,346.73 252.6,344.9 C253.7,343.07 254.73,336.08 255.6,334.6 C256.47,333.12 257.07,335.27 257.8,336 C258.53,336.73 259.27,339.72 260,339 C260.73,338.28 261.47,333.42 262.2,331.7 C262.93,329.98 263.67,330.92 264.4,328.7 C265.13,326.48 265.87,321.33 266.6,318.4 C267.33,315.47 268.07,312.68 268.8,311.1 C269.53,309.52 270.08,310.98 271,308.9 C271.92,306.82 273.45,299.75 274.3,298.6 C275.15,297.45 275.43,300.35 276.1,302 C276.77,303.65 277.57,308.7 278.3,308.5 C279.03,308.3 279.77,303.05 280.5,300.8 C281.23,298.55 281.97,295.37 282.7,295 C283.43,294.63 284.12,300.93 284.9,298.6 C285.68,296.27 286.62,281.73 287.4,281 C288.18,280.27 288.78,290.17 289.6,294.2 C290.42,298.23 291.48,305.57 292.3,305.2 C293.12,304.83 293.68,296.8 294.5,292 C295.32,287.2 296.38,278.52 297.2,276.4 C298.02,274.28 298.55,283.47 299.4,279.3 C300.25,275.13 301.32,251.4 302.3,251.4 C303.28,251.4 304.43,277.03 305.3,279.3 C306.17,281.57 306.65,269.9 307.5,265 C308.35,260.1 309.5,249.72 310.4,249.9 C311.3,250.08 312.17,266.22 312.9,266.1 C313.63,265.98 314.25,252.13 314.8,249.2 C315.35,246.27 315.72,250.82 316.2,248.5 C316.68,246.18 317.32,237.63 317.7,235.3 C318.08,232.97 318.37,234.63 318.5,234.5 L318.5,358.4 L44.5,358.4 Z" fill="url(#gbR)" stroke="none"/>
<path d="M44.5,336 C44.6,336.33 44.42,338.38 45.1,338 C45.78,337.62 47.45,335.42 48.6,333.7 C49.75,331.98 50.87,329.83 52,327.7 C53.13,325.57 54.45,322.42 55.4,320.9 C56.35,319.38 56.93,320.7 57.7,318.6 C58.47,316.5 59.23,308.5 60,308.3 C60.77,308.1 61.35,316.63 62.3,317.4 C63.25,318.17 64.75,312.32 65.7,312.9 C66.65,313.48 67.23,318.43 68,320.9 C68.77,323.37 69.15,325.23 70.3,327.7 C71.45,330.17 73.57,333.98 74.9,335.7 C76.23,337.42 77.17,338.38 78.3,338 C79.43,337.62 80.57,334.17 81.7,333.4 C82.83,332.63 83.77,333.97 85.1,333.4 C86.43,332.83 88.37,330.75 89.7,330 C91.03,329.25 91.95,328.9 93.1,328.9 C94.25,328.9 95.45,330.87 96.6,330 C97.75,329.13 99.05,323.32 100,323.7 C100.95,324.08 101.53,330.68 102.3,332.3 C103.07,333.92 103.83,334.73 104.6,333.4 C105.37,332.07 106.05,326.02 106.9,324.3 C107.75,322.58 108.75,323.3 109.7,323.1 C110.65,322.9 111.75,323.28 112.6,323.1 C113.45,322.92 113.95,321.8 114.8,322 C115.65,322.2 116.65,324.5 117.7,324.3 C118.75,324.1 120.05,321.77 121.1,320.8 C122.15,319.83 123.05,318.12 124,318.5 C124.95,318.88 125.85,321.57 126.8,323.1 C127.75,324.63 128.75,327.13 129.7,327.7 C130.65,328.27 131.65,327.45 132.5,326.5 C133.35,325.55 133.93,321.8 134.8,322 C135.67,322.2 136.75,325.9 137.7,327.7 C138.65,329.5 139.45,332.8 140.5,332.8 C141.55,332.8 142.95,329.7 144,327.7 C145.05,325.7 145.85,320.8 146.8,320.8 C147.75,320.8 148.83,325.7 149.7,327.7 C150.57,329.7 151.15,332.8 152,332.8 C152.85,332.8 153.85,328.93 154.8,327.7 C155.75,326.47 156.75,326.35 157.7,325.4 C158.65,324.45 159.55,322.67 160.5,322 C161.45,321.33 162.35,321.6 163.4,321.4 C164.45,321.2 165.87,320.9 166.8,320.8 C167.73,320.7 168.22,321.43 169,320.8 C169.78,320.17 170.48,318.47 171.5,317 C172.52,315.53 173.92,314.02 175.1,312 C176.28,309.98 177.5,308.07 178.6,304.9 C179.7,301.73 180.7,295.97 181.7,293 C182.7,290.03 183.73,287.1 184.6,287.1 C185.47,287.1 186.12,292.8 186.9,293 C187.68,293.2 188.52,288.3 189.3,288.3 C190.08,288.3 190.9,289.45 191.6,293 C192.3,296.55 192.78,304.67 193.5,309.6 C194.22,314.53 195.1,321.2 195.9,322.6 C196.7,324 197.52,317.8 198.3,318 C199.08,318.2 199.73,326.97 200.6,323.8 C201.47,320.63 202.63,299.8 203.5,299 C204.37,298.2 205.02,312.9 205.8,319 C206.58,325.1 207.02,334.02 208.2,335.6 C209.38,337.18 211.32,330.67 212.9,328.5 C214.48,326.33 216.52,322.6 217.7,322.6 C218.88,322.6 219.02,325.93 220,328.5 C220.98,331.07 222.42,336.82 223.6,338 C224.78,339.18 225.73,335.6 227.1,335.6 C228.47,335.6 230.32,337.02 231.8,338 C233.28,338.98 234.73,340.48 236,341.5 C237.27,342.52 238.35,344.52 239.4,344.1 C240.45,343.68 241.32,338.87 242.3,339 C243.28,339.13 244.07,343.68 245.3,344.9 C246.53,346.12 248.23,346.55 249.7,346.3 C251.17,346.05 252.88,344.62 254.1,343.4 C255.32,342.18 255.28,340.1 257,339 C258.72,337.9 262.2,338.02 264.4,336.8 C266.6,335.58 268.25,332.92 270.2,331.7 C272.15,330.48 274.13,330.12 276.1,329.5 C278.07,328.88 280.28,328.13 282,328 C283.72,327.87 284.93,327.12 286.4,328.7 C287.87,330.28 289.58,336.52 290.8,337.5 C292.02,338.48 292.48,336.8 293.7,334.6 C294.92,332.4 296.63,326.63 298.1,324.3 C299.57,321.97 301.03,320.6 302.5,320.6 C303.97,320.6 305.67,324.67 306.9,324.3 C308.13,323.93 308.67,319.13 309.9,318.4 C311.13,317.67 312.87,320.38 314.3,319.9 C315.73,319.42 317.8,316.23 318.5,315.5 L318.5,358.4 L44.5,358.4 Z" fill="url(#gbG)" stroke="none"/>
<path d="M44.5,332 C44.6,332.23 44.42,334.3 45.1,333.4 C45.78,332.5 47.45,328.12 48.6,326.6 C49.75,325.08 50.87,325.25 52,324.3 C53.13,323.35 54.07,322.23 55.4,320.9 C56.73,319.57 58.67,316.5 60,316.3 C61.33,316.1 62.25,319.32 63.4,319.7 C64.55,320.08 65.57,317.65 66.9,318.6 C68.23,319.55 69.7,322.93 71.4,325.4 C73.1,327.87 75.38,332.07 77.1,333.4 C78.82,334.73 80.37,333.97 81.7,333.4 C83.03,332.83 83.77,330.95 85.1,330 C86.43,329.05 88.17,327.52 89.7,327.7 C91.23,327.88 92.77,331.1 94.3,331.1 C95.83,331.1 97.95,327.88 98.9,327.7 C99.85,327.52 99.43,330 100,330 C100.57,330 101.53,329.62 102.3,327.7 C103.07,325.78 103.75,320.78 104.6,318.5 C105.45,316.22 106.55,313.23 107.4,314 C108.25,314.77 108.93,319.87 109.7,323.1 C110.47,326.33 111.15,333.58 112,333.4 C112.85,333.22 113.85,324.48 114.8,322 C115.75,319.52 116.73,320.22 117.7,318.5 C118.67,316.78 119.65,312.65 120.6,311.7 C121.55,310.75 122.45,314.03 123.4,312.8 C124.35,311.57 125.45,304.3 126.3,304.3 C127.15,304.3 127.65,310.05 128.5,312.8 C129.35,315.55 130.43,320.8 131.4,320.8 C132.37,320.8 133.35,312.98 134.3,312.8 C135.25,312.62 136.15,317.22 137.1,319.7 C138.05,322.18 139.05,325.42 140,327.7 C140.95,329.98 141.85,333.4 142.8,333.4 C143.75,333.4 144.75,329.22 145.7,327.7 C146.65,326.18 147.65,324.12 148.5,324.3 C149.35,324.48 149.93,328.43 150.8,328.8 C151.67,329.17 152.75,327.25 153.7,326.5 C154.65,325.75 155.55,325.63 156.5,324.3 C157.45,322.97 158.45,318.5 159.4,318.5 C160.35,318.5 161.35,322.38 162.2,324.3 C163.05,326.22 163.73,327.92 164.5,330 C165.27,332.08 165.97,338.13 166.8,336.8 C167.63,335.47 168.72,325.75 169.5,322 C170.28,318.25 170.57,315.97 171.5,314.3 C172.43,312.63 174.1,311.22 175.1,312 C176.1,312.78 176.7,318 177.5,319 C178.3,320 179.03,316.82 179.9,318 C180.77,319.18 181.73,325.6 182.7,326.1 C183.67,326.6 184.6,322.02 185.7,321 C186.8,319.98 188.32,320.72 189.3,320 C190.28,319.28 190.73,318.43 191.6,316.7 C192.47,314.97 193.63,311.57 194.5,309.6 C195.37,307.63 196.02,304.12 196.8,304.9 C197.58,305.68 198.4,309.58 199.2,314.3 C200,319.02 200.68,329.25 201.6,333.2 C202.52,337.15 203.68,338 204.7,338 C205.72,338 206.72,335.97 207.7,333.2 C208.68,330.43 209.72,322.58 210.6,321.4 C211.48,320.22 212.22,324.52 213,326.1 C213.78,327.68 214.33,329.72 215.3,330.9 C216.27,332.08 217.62,333.4 218.8,333.2 C219.98,333 221.2,328.12 222.4,329.7 C223.6,331.28 224.4,340.32 226,342.7 C227.6,345.08 229.67,343.62 232,344 C234.33,344.38 237,344.67 240,345 C243,345.33 247,346.33 250,346 C253,345.67 255.6,344.08 258,343 C260.4,341.92 262.37,340.17 264.4,339.5 C266.43,338.83 268.02,339.58 270.2,339 C272.38,338.42 275.3,336.25 277.5,336 C279.7,335.75 281.68,337.73 283.4,337.5 C285.12,337.27 286.08,336.55 287.8,334.6 C289.52,332.65 291.98,326.07 293.7,325.8 C295.42,325.53 296.4,333.97 298.1,333 C299.8,332.03 302.18,321.67 303.9,320 C305.62,318.33 307.17,323.5 308.4,323 C309.63,322.5 310.2,316.78 311.3,317 C312.4,317.22 313.8,324.07 315,324.3 C316.2,324.53 317.92,319.38 318.5,318.4 L318.5,358.4 L44.5,358.4 Z" fill="url(#gbY)" stroke="none"/>
<path d="M44.5,325 C44.6,324.68 44.8,322.6 45.1,323.1 C45.4,323.6 45.72,329.13 46.3,328 C46.88,326.87 47.83,318.45 48.6,316.3 C49.37,314.15 50.15,315.38 50.9,315.1 C51.65,314.82 52.25,316.12 53.1,314.6 C53.95,313.08 55.23,306.38 56,306 C56.77,305.62 57.03,310.4 57.7,312.3 C58.37,314.2 59.23,316.35 60,317.4 C60.77,318.45 61.45,319.17 62.3,318.6 C63.15,318.03 64.25,313.82 65.1,314 C65.95,314.18 66.53,318.27 67.4,319.7 C68.27,321.13 69.43,321.45 70.3,322.6 C71.17,323.75 71.83,325.08 72.6,326.6 C73.37,328.12 73.95,329.62 74.9,331.7 C75.85,333.78 77.35,338.62 78.3,339.1 C79.25,339.58 79.83,337.07 80.6,334.6 C81.37,332.13 82.15,325.07 82.9,324.3 C83.65,323.53 84.38,328.28 85.1,330 C85.82,331.72 86.43,334.42 87.2,334.6 C87.97,334.78 88.9,334.15 89.7,331.1 C90.5,328.05 91.23,317.43 92,316.3 C92.77,315.17 93.53,321.83 94.3,324.3 C95.07,326.77 95.65,331.1 96.6,331.1 C97.55,331.1 99.05,325.63 100,324.3 C100.95,322.97 101.45,325.02 102.3,323.1 C103.15,321.18 104.15,315.47 105.1,312.8 C106.05,310.13 107.13,306.72 108,307.1 C108.87,307.48 109.53,312.23 110.3,315.1 C111.07,317.97 111.85,324.2 112.6,324.3 C113.35,324.4 113.95,315.7 114.8,315.7 C115.65,315.7 116.73,324.2 117.7,324.3 C118.67,324.4 119.65,318.68 120.6,316.3 C121.55,313.92 122.45,309.63 123.4,310 C124.35,310.37 125.35,315.75 126.3,318.5 C127.25,321.25 128.15,327.92 129.1,326.5 C130.05,325.08 131.13,311.7 132,310 C132.87,308.3 133.45,313.73 134.3,316.3 C135.15,318.87 136.15,325.32 137.1,325.4 C138.05,325.48 139.05,316.03 140,316.8 C140.95,317.57 141.85,328.75 142.8,330 C143.75,331.25 144.75,327.35 145.7,324.3 C146.65,321.25 147.65,311.7 148.5,311.7 C149.35,311.7 150.03,321.83 150.8,324.3 C151.57,326.77 152.15,327.17 153.1,326.5 C154.05,325.83 155.55,320.67 156.5,320.3 C157.45,319.93 157.93,324.22 158.8,324.3 C159.67,324.38 160.75,320.05 161.7,320.8 C162.65,321.55 163.55,326.42 164.5,328.8 C165.45,331.18 166.48,334.15 167.4,335.1 C168.32,336.05 169.23,334.18 170,334.5 C170.77,334.82 170.83,336.75 172,337 C173.17,337.25 175.33,335.83 177,336 C178.67,336.17 180.33,337.67 182,338 C183.67,338.33 185.5,337.83 187,338 C188.5,338.17 189.67,338.67 191,339 C192.33,339.33 193.67,339.5 195,340 C196.33,340.5 197.5,341.33 199,342 C200.5,342.67 202.17,343.5 204,344 C205.83,344.5 208,344.75 210,345 C212,345.25 214,345.33 216,345.5 C218,345.67 219.67,345.92 222,346 C224.33,346.08 227.33,345.95 230,346 C232.67,346.05 235.33,346.22 238,346.3 C240.67,346.38 243.57,346.58 246,346.5 C248.43,346.42 250.93,346.22 252.6,345.8 C254.27,345.38 255.02,344.63 256,344 C256.98,343.37 257.1,343.08 258.5,342 C259.9,340.92 262.2,338.98 264.4,337.5 C266.6,336.02 269.27,334.18 271.7,333.1 C274.13,332.02 276.55,331.73 279,331 C281.45,330.27 284.43,328.1 286.4,328.7 C288.37,329.3 289.58,334.1 290.8,334.6 C292.02,335.1 292.48,332.42 293.7,331.7 C294.92,330.98 297.12,329.82 298.1,330.3 C299.08,330.78 298.87,335.6 299.6,334.6 C300.33,333.6 301.28,325.52 302.5,324.3 C303.72,323.08 305.67,328.77 306.9,327.3 C308.13,325.83 308.67,316.72 309.9,315.5 C311.13,314.28 312.87,320.25 314.3,320 C315.73,319.75 317.8,315 318.5,314 L318.5,358.4 L44.5,358.4 Z" fill="url(#gbB)" stroke="none"/>
<path d="M44.5,341.4 C44.98,341.6 46.33,342.8 47.4,342.6 C48.47,342.4 49.75,340.78 50.9,340.2 C52.05,339.62 53.35,341.95 54.3,339.1 C55.25,336.25 55.83,325 56.6,323.1 C57.37,321.2 57.95,327.5 58.9,327.7 C59.85,327.9 61.27,325.53 62.3,324.3 C63.33,323.07 64.25,319.73 65.1,320.3 C65.95,320.87 66.53,326.47 67.4,327.7 C68.27,328.93 69.25,326.93 70.3,327.7 C71.35,328.47 72.37,330.97 73.7,332.3 C75.03,333.63 76.97,335.52 78.3,335.7 C79.63,335.88 80.57,333.4 81.7,333.4 C82.83,333.4 83.77,335.88 85.1,335.7 C86.43,335.52 88.17,332.68 89.7,332.3 C91.23,331.92 92.77,333.02 94.3,333.4 C95.83,333.78 97.95,334.32 98.9,334.6 C99.85,334.88 99.25,334.82 100,335.1 C100.75,335.38 102.25,336.68 103.4,336.3 C104.55,335.92 105.75,333.08 106.9,332.8 C108.05,332.52 109.17,334.5 110.3,334.6 C111.43,334.7 112.57,333.6 113.7,333.4 C114.83,333.2 115.95,333.02 117.1,333.4 C118.25,333.78 119.45,335.7 120.6,335.7 C121.75,335.7 123.05,334.07 124,333.4 C124.95,332.73 125.45,331.32 126.3,331.7 C127.15,332.08 128.15,335.13 129.1,335.7 C130.05,336.27 130.95,334.92 132,335.1 C133.05,335.28 134.27,336.13 135.4,336.8 C136.53,337.47 137.85,338.53 138.8,339.1 C139.75,339.67 140.15,340.2 141.1,340.2 C142.05,340.2 143.35,339.1 144.5,339.1 C145.65,339.1 146.85,339.92 148,340.2 C149.15,340.48 150.27,340.88 151.4,340.8 C152.53,340.72 153.67,340.08 154.8,339.7 C155.93,339.32 157.05,338.88 158.2,338.5 C159.35,338.12 160.55,337.3 161.7,337.4 C162.85,337.5 163.97,339.2 165.1,339.1 C166.23,339 167.68,336.98 168.5,336.8 C169.32,336.62 168.92,338.63 170,338 C171.08,337.37 173.33,333.92 175,333 C176.67,332.08 178.33,332.33 180,332.5 C181.67,332.67 183.33,333.75 185,334 C186.67,334.25 188.33,333.83 190,334 C191.67,334.17 193.33,334.5 195,335 C196.67,335.5 198.33,336.42 200,337 C201.67,337.58 203.33,337.83 205,338.5 C206.67,339.17 208.33,340.33 210,341 C211.67,341.67 213.33,342.08 215,342.5 C216.67,342.92 217.83,343.17 220,343.5 C222.17,343.83 225,344.25 228,344.5 C231,344.75 234.33,344.7 238,345 C241.67,345.3 246.83,346.33 250,346.3 C253.17,346.27 254.6,345.53 257,344.8 C259.4,344.07 261.95,342.87 264.4,341.9 C266.85,340.93 269.27,339.82 271.7,339 C274.13,338.18 276.55,337.98 279,337 C281.45,336.02 283.95,333.98 286.4,333.1 C288.85,332.22 291.27,332.55 293.7,331.7 C296.13,330.85 298.55,328.73 301,328 C303.45,327.27 306.18,328.17 308.4,327.3 C310.62,326.43 312.62,323.78 314.3,322.8 C315.98,321.82 317.8,321.63 318.5,321.4 L318.5,358.4 L44.5,358.4 Z" fill="url(#gbS)" stroke="none"/>
<line x1="250" y1="324.8" x2="250" y2="358" stroke="#333" stroke-width="1.3" stroke-dasharray="6,3.5"/>
<path d="M44.5,285 C44.63,284.97 45,281.3 45.3,284.8 C45.6,288.3 45.87,305.8 46.3,306 C46.73,306.2 47.35,291.7 47.9,286 C48.45,280.3 49.08,274.37 49.6,271.8 C50.12,269.23 50.5,271.6 51,270.6 C51.5,269.6 52.05,269.15 52.6,265.8 C53.15,262.45 53.7,256.02 54.3,250.5 C54.9,244.98 55.65,233.5 56.2,232.7 C56.75,231.9 57.13,244.72 57.6,245.7 C58.07,246.68 58.53,240.17 59,238.6 C59.47,237.03 59.92,233.73 60.4,236.3 C60.88,238.87 61.42,253.22 61.9,254 C62.38,254.78 62.78,245.73 63.3,241 C63.82,236.27 64.45,225.4 65,225.6 C65.55,225.8 66.1,236.08 66.6,242.2 C67.1,248.32 67.45,259.15 68,262.3 C68.55,265.45 69.18,259.13 69.9,261.1 C70.62,263.07 71.43,268.78 72.3,274.1 C73.17,279.42 74.32,288.67 75.1,293 C75.88,297.33 76.28,296.75 77,300.1 C77.72,303.45 78.68,314.28 79.4,313.1 C80.12,311.92 80.63,298.9 81.3,293 C81.97,287.1 82.73,278.08 83.4,277.7 C84.07,277.32 84.63,285.78 85.3,290.7 C85.97,295.62 86.73,308 87.4,307.2 C88.07,306.4 88.52,293.18 89.3,285.9 C90.08,278.62 91.32,263.88 92.1,263.5 C92.88,263.12 93.37,279.27 94,283.6 C94.63,287.93 95.27,289.3 95.9,289.5 C96.53,289.7 97.2,287.05 97.8,284.8 C98.4,282.55 98.95,275.42 99.5,276 C100.05,276.58 100.52,286.83 101.1,288.3 C101.68,289.77 102.37,288.35 103,284.8 C103.63,281.25 104.12,274.5 104.9,267 C105.68,259.5 106.82,240.98 107.7,239.8 C108.58,238.62 109.32,252.4 110.2,259.9 C111.08,267.4 112.1,285.58 113,284.8 C113.9,284.02 114.77,256.38 115.6,255.2 C116.43,254.02 117.2,278.48 118,277.7 C118.8,276.92 119.62,256.42 120.4,250.5 C121.18,244.58 122.03,244.37 122.7,242.2 C123.37,240.03 123.8,239.58 124.4,237.5 C125,235.42 125.72,228.72 126.3,229.7 C126.88,230.68 127.32,237.97 127.9,243.4 C128.48,248.83 129.08,260.92 129.8,262.3 C130.52,263.68 131.4,253.67 132.2,251.7 C133,249.73 133.82,246.97 134.6,250.5 C135.38,254.03 135.92,267.58 136.9,272.9 C137.88,278.22 139.52,279.83 140.5,282.4 C141.48,284.97 141.93,289.08 142.8,288.3 C143.67,287.52 144.83,281.25 145.7,277.7 C146.57,274.15 147.3,266.02 148,267 C148.7,267.98 149.27,278.87 149.9,283.6 C150.53,288.33 151.08,296.78 151.8,295.4 C152.52,294.02 153.33,279.05 154.2,275.3 C155.07,271.55 156.22,273.88 157,272.9 C157.78,271.92 158.18,271.57 158.9,269.4 C159.62,267.23 160.43,259.5 161.3,259.9 C162.17,260.3 163.15,266.67 164.1,271.8 C165.05,276.93 166.02,289.72 167,290.7 C167.98,291.68 169.17,281.48 170,277.7 C170.83,273.92 171.15,271.55 172,268 C172.85,264.45 174.27,257.15 175.1,256.4 C175.93,255.65 176.28,264.68 177,263.5 C177.72,262.32 178.73,252.27 179.4,249.3 C180.07,246.33 180.45,245.92 181,245.7 C181.55,245.48 182.1,248.18 182.7,248 C183.3,247.82 183.98,244.18 184.6,244.6 C185.22,245.02 185.7,250.32 186.4,250.5 C187.1,250.68 188.05,247.2 188.8,245.7 C189.55,244.2 190.23,240.9 190.9,241.5 C191.57,242.1 192.08,245.25 192.8,249.3 C193.52,253.35 194.4,265.6 195.2,265.8 C196,266 196.82,249.9 197.6,250.5 C198.38,251.1 199.23,262.7 199.9,269.4 C200.57,276.1 201,289.92 201.6,290.7 C202.2,291.48 202.87,274.88 203.5,274.1 C204.13,273.32 204.82,280.28 205.4,286 C205.98,291.72 206.45,304.47 207,308.4 C207.55,312.33 208.03,310.98 208.7,309.6 C209.37,308.22 210.3,300.1 211,300.1 C211.7,300.1 212.18,306.83 212.9,309.6 C213.62,312.37 214.5,318.08 215.3,316.7 C216.1,315.32 217,302.08 217.7,301.3 C218.4,300.52 218.8,308.25 219.5,312 C220.2,315.75 221.1,322.03 221.9,323.8 C222.7,325.57 223.52,320.43 224.3,322.6 C225.08,324.77 225.82,334.63 226.6,336.8 C227.38,338.97 228.32,335.02 229,335.6 C229.68,336.18 230.03,340.1 230.7,340.3 C231.37,340.5 232.22,336.6 233,336.8 C233.78,337 234.58,340.28 235.4,341.5 C236.22,342.72 237.13,344.52 237.9,344.1 C238.67,343.68 239.38,338.87 240,339 C240.62,339.13 240.97,345.02 241.6,344.9 C242.23,344.78 243.07,338.3 243.8,338.3 C244.53,338.3 245.13,343.68 246,344.9 C246.87,346.12 247.9,345.6 249,345.6 C250.1,345.6 251.5,346.73 252.6,344.9 C253.7,343.07 254.73,336.08 255.6,334.6 C256.47,333.12 257.07,335.27 257.8,336 C258.53,336.73 259.27,339.72 260,339 C260.73,338.28 261.47,333.42 262.2,331.7 C262.93,329.98 263.67,330.92 264.4,328.7 C265.13,326.48 265.87,321.33 266.6,318.4 C267.33,315.47 268.07,312.68 268.8,311.1 C269.53,309.52 270.08,310.98 271,308.9 C271.92,306.82 273.45,299.75 274.3,298.6 C275.15,297.45 275.43,300.35 276.1,302 C276.77,303.65 277.57,308.7 278.3,308.5 C279.03,308.3 279.77,303.05 280.5,300.8 C281.23,298.55 281.97,295.37 282.7,295 C283.43,294.63 284.12,300.93 284.9,298.6 C285.68,296.27 286.62,281.73 287.4,281 C288.18,280.27 288.78,290.17 289.6,294.2 C290.42,298.23 291.48,305.57 292.3,305.2 C293.12,304.83 293.68,296.8 294.5,292 C295.32,287.2 296.38,278.52 297.2,276.4 C298.02,274.28 298.55,283.47 299.4,279.3 C300.25,275.13 301.32,251.4 302.3,251.4 C303.28,251.4 304.43,277.03 305.3,279.3 C306.17,281.57 306.65,269.9 307.5,265 C308.35,260.1 309.5,249.72 310.4,249.9 C311.3,250.08 312.17,266.22 312.9,266.1 C313.63,265.98 314.25,252.13 314.8,249.2 C315.35,246.27 315.72,250.82 316.2,248.5 C316.68,246.18 317.32,237.63 317.7,235.3 C318.08,232.97 318.37,234.63 318.5,234.5" fill="none" stroke="#DB4437" stroke-width="2.1" stroke-linejoin="round" stroke-linecap="round"/>
<path d="M44.5,341.4 C44.98,341.6 46.33,342.8 47.4,342.6 C48.47,342.4 49.75,340.78 50.9,340.2 C52.05,339.62 53.35,341.95 54.3,339.1 C55.25,336.25 55.83,325 56.6,323.1 C57.37,321.2 57.95,327.5 58.9,327.7 C59.85,327.9 61.27,325.53 62.3,324.3 C63.33,323.07 64.25,319.73 65.1,320.3 C65.95,320.87 66.53,326.47 67.4,327.7 C68.27,328.93 69.25,326.93 70.3,327.7 C71.35,328.47 72.37,330.97 73.7,332.3 C75.03,333.63 76.97,335.52 78.3,335.7 C79.63,335.88 80.57,333.4 81.7,333.4 C82.83,333.4 83.77,335.88 85.1,335.7 C86.43,335.52 88.17,332.68 89.7,332.3 C91.23,331.92 92.77,333.02 94.3,333.4 C95.83,333.78 97.95,334.32 98.9,334.6 C99.85,334.88 99.25,334.82 100,335.1 C100.75,335.38 102.25,336.68 103.4,336.3 C104.55,335.92 105.75,333.08 106.9,332.8 C108.05,332.52 109.17,334.5 110.3,334.6 C111.43,334.7 112.57,333.6 113.7,333.4 C114.83,333.2 115.95,333.02 117.1,333.4 C118.25,333.78 119.45,335.7 120.6,335.7 C121.75,335.7 123.05,334.07 124,333.4 C124.95,332.73 125.45,331.32 126.3,331.7 C127.15,332.08 128.15,335.13 129.1,335.7 C130.05,336.27 130.95,334.92 132,335.1 C133.05,335.28 134.27,336.13 135.4,336.8 C136.53,337.47 137.85,338.53 138.8,339.1 C139.75,339.67 140.15,340.2 141.1,340.2 C142.05,340.2 143.35,339.1 144.5,339.1 C145.65,339.1 146.85,339.92 148,340.2 C149.15,340.48 150.27,340.88 151.4,340.8 C152.53,340.72 153.67,340.08 154.8,339.7 C155.93,339.32 157.05,338.88 158.2,338.5 C159.35,338.12 160.55,337.3 161.7,337.4 C162.85,337.5 163.97,339.2 165.1,339.1 C166.23,339 167.68,336.98 168.5,336.8 C169.32,336.62 168.92,338.63 170,338 C171.08,337.37 173.33,333.92 175,333 C176.67,332.08 178.33,332.33 180,332.5 C181.67,332.67 183.33,333.75 185,334 C186.67,334.25 188.33,333.83 190,334 C191.67,334.17 193.33,334.5 195,335 C196.67,335.5 198.33,336.42 200,337 C201.67,337.58 203.33,337.83 205,338.5 C206.67,339.17 208.33,340.33 210,341 C211.67,341.67 213.33,342.08 215,342.5 C216.67,342.92 217.83,343.17 220,343.5 C222.17,343.83 225,344.25 228,344.5 C231,344.75 234.33,344.7 238,345 C241.67,345.3 246.83,346.33 250,346.3 C253.17,346.27 254.6,345.53 257,344.8 C259.4,344.07 261.95,342.87 264.4,341.9 C266.85,340.93 269.27,339.82 271.7,339 C274.13,338.18 276.55,337.98 279,337 C281.45,336.02 283.95,333.98 286.4,333.1 C288.85,332.22 291.27,332.55 293.7,331.7 C296.13,330.85 298.55,328.73 301,328 C303.45,327.27 306.18,328.17 308.4,327.3 C310.62,326.43 312.62,323.78 314.3,322.8 C315.98,321.82 317.8,321.63 318.5,321.4" fill="none" stroke="#C9C9C9" stroke-width="2" stroke-linejoin="round" stroke-linecap="round"/>
<path d="M44.5,332 C44.6,332.23 44.42,334.3 45.1,333.4 C45.78,332.5 47.45,328.12 48.6,326.6 C49.75,325.08 50.87,325.25 52,324.3 C53.13,323.35 54.07,322.23 55.4,320.9 C56.73,319.57 58.67,316.5 60,316.3 C61.33,316.1 62.25,319.32 63.4,319.7 C64.55,320.08 65.57,317.65 66.9,318.6 C68.23,319.55 69.7,322.93 71.4,325.4 C73.1,327.87 75.38,332.07 77.1,333.4 C78.82,334.73 80.37,333.97 81.7,333.4 C83.03,332.83 83.77,330.95 85.1,330 C86.43,329.05 88.17,327.52 89.7,327.7 C91.23,327.88 92.77,331.1 94.3,331.1 C95.83,331.1 97.95,327.88 98.9,327.7 C99.85,327.52 99.43,330 100,330 C100.57,330 101.53,329.62 102.3,327.7 C103.07,325.78 103.75,320.78 104.6,318.5 C105.45,316.22 106.55,313.23 107.4,314 C108.25,314.77 108.93,319.87 109.7,323.1 C110.47,326.33 111.15,333.58 112,333.4 C112.85,333.22 113.85,324.48 114.8,322 C115.75,319.52 116.73,320.22 117.7,318.5 C118.67,316.78 119.65,312.65 120.6,311.7 C121.55,310.75 122.45,314.03 123.4,312.8 C124.35,311.57 125.45,304.3 126.3,304.3 C127.15,304.3 127.65,310.05 128.5,312.8 C129.35,315.55 130.43,320.8 131.4,320.8 C132.37,320.8 133.35,312.98 134.3,312.8 C135.25,312.62 136.15,317.22 137.1,319.7 C138.05,322.18 139.05,325.42 140,327.7 C140.95,329.98 141.85,333.4 142.8,333.4 C143.75,333.4 144.75,329.22 145.7,327.7 C146.65,326.18 147.65,324.12 148.5,324.3 C149.35,324.48 149.93,328.43 150.8,328.8 C151.67,329.17 152.75,327.25 153.7,326.5 C154.65,325.75 155.55,325.63 156.5,324.3 C157.45,322.97 158.45,318.5 159.4,318.5 C160.35,318.5 161.35,322.38 162.2,324.3 C163.05,326.22 163.73,327.92 164.5,330 C165.27,332.08 165.97,338.13 166.8,336.8 C167.63,335.47 168.72,325.75 169.5,322 C170.28,318.25 170.57,315.97 171.5,314.3 C172.43,312.63 174.1,311.22 175.1,312 C176.1,312.78 176.7,318 177.5,319 C178.3,320 179.03,316.82 179.9,318 C180.77,319.18 181.73,325.6 182.7,326.1 C183.67,326.6 184.6,322.02 185.7,321 C186.8,319.98 188.32,320.72 189.3,320 C190.28,319.28 190.73,318.43 191.6,316.7 C192.47,314.97 193.63,311.57 194.5,309.6 C195.37,307.63 196.02,304.12 196.8,304.9 C197.58,305.68 198.4,309.58 199.2,314.3 C200,319.02 200.68,329.25 201.6,333.2 C202.52,337.15 203.68,338 204.7,338 C205.72,338 206.72,335.97 207.7,333.2 C208.68,330.43 209.72,322.58 210.6,321.4 C211.48,320.22 212.22,324.52 213,326.1 C213.78,327.68 214.33,329.72 215.3,330.9 C216.27,332.08 217.62,333.4 218.8,333.2 C219.98,333 221.2,328.12 222.4,329.7 C223.6,331.28 224.4,340.32 226,342.7 C227.6,345.08 229.67,343.62 232,344 C234.33,344.38 237,344.67 240,345 C243,345.33 247,346.33 250,346 C253,345.67 255.6,344.08 258,343 C260.4,341.92 262.37,340.17 264.4,339.5 C266.43,338.83 268.02,339.58 270.2,339 C272.38,338.42 275.3,336.25 277.5,336 C279.7,335.75 281.68,337.73 283.4,337.5 C285.12,337.27 286.08,336.55 287.8,334.6 C289.52,332.65 291.98,326.07 293.7,325.8 C295.42,325.53 296.4,333.97 298.1,333 C299.8,332.03 302.18,321.67 303.9,320 C305.62,318.33 307.17,323.5 308.4,323 C309.63,322.5 310.2,316.78 311.3,317 C312.4,317.22 313.8,324.07 315,324.3 C316.2,324.53 317.92,319.38 318.5,318.4" fill="none" stroke="#F4B400" stroke-width="2" stroke-linejoin="round" stroke-linecap="round"/>
<path d="M44.5,336 C44.6,336.33 44.42,338.38 45.1,338 C45.78,337.62 47.45,335.42 48.6,333.7 C49.75,331.98 50.87,329.83 52,327.7 C53.13,325.57 54.45,322.42 55.4,320.9 C56.35,319.38 56.93,320.7 57.7,318.6 C58.47,316.5 59.23,308.5 60,308.3 C60.77,308.1 61.35,316.63 62.3,317.4 C63.25,318.17 64.75,312.32 65.7,312.9 C66.65,313.48 67.23,318.43 68,320.9 C68.77,323.37 69.15,325.23 70.3,327.7 C71.45,330.17 73.57,333.98 74.9,335.7 C76.23,337.42 77.17,338.38 78.3,338 C79.43,337.62 80.57,334.17 81.7,333.4 C82.83,332.63 83.77,333.97 85.1,333.4 C86.43,332.83 88.37,330.75 89.7,330 C91.03,329.25 91.95,328.9 93.1,328.9 C94.25,328.9 95.45,330.87 96.6,330 C97.75,329.13 99.05,323.32 100,323.7 C100.95,324.08 101.53,330.68 102.3,332.3 C103.07,333.92 103.83,334.73 104.6,333.4 C105.37,332.07 106.05,326.02 106.9,324.3 C107.75,322.58 108.75,323.3 109.7,323.1 C110.65,322.9 111.75,323.28 112.6,323.1 C113.45,322.92 113.95,321.8 114.8,322 C115.65,322.2 116.65,324.5 117.7,324.3 C118.75,324.1 120.05,321.77 121.1,320.8 C122.15,319.83 123.05,318.12 124,318.5 C124.95,318.88 125.85,321.57 126.8,323.1 C127.75,324.63 128.75,327.13 129.7,327.7 C130.65,328.27 131.65,327.45 132.5,326.5 C133.35,325.55 133.93,321.8 134.8,322 C135.67,322.2 136.75,325.9 137.7,327.7 C138.65,329.5 139.45,332.8 140.5,332.8 C141.55,332.8 142.95,329.7 144,327.7 C145.05,325.7 145.85,320.8 146.8,320.8 C147.75,320.8 148.83,325.7 149.7,327.7 C150.57,329.7 151.15,332.8 152,332.8 C152.85,332.8 153.85,328.93 154.8,327.7 C155.75,326.47 156.75,326.35 157.7,325.4 C158.65,324.45 159.55,322.67 160.5,322 C161.45,321.33 162.35,321.6 163.4,321.4 C164.45,321.2 165.87,320.9 166.8,320.8 C167.73,320.7 168.22,321.43 169,320.8 C169.78,320.17 170.48,318.47 171.5,317 C172.52,315.53 173.92,314.02 175.1,312 C176.28,309.98 177.5,308.07 178.6,304.9 C179.7,301.73 180.7,295.97 181.7,293 C182.7,290.03 183.73,287.1 184.6,287.1 C185.47,287.1 186.12,292.8 186.9,293 C187.68,293.2 188.52,288.3 189.3,288.3 C190.08,288.3 190.9,289.45 191.6,293 C192.3,296.55 192.78,304.67 193.5,309.6 C194.22,314.53 195.1,321.2 195.9,322.6 C196.7,324 197.52,317.8 198.3,318 C199.08,318.2 199.73,326.97 200.6,323.8 C201.47,320.63 202.63,299.8 203.5,299 C204.37,298.2 205.02,312.9 205.8,319 C206.58,325.1 207.02,334.02 208.2,335.6 C209.38,337.18 211.32,330.67 212.9,328.5 C214.48,326.33 216.52,322.6 217.7,322.6 C218.88,322.6 219.02,325.93 220,328.5 C220.98,331.07 222.42,336.82 223.6,338 C224.78,339.18 225.73,335.6 227.1,335.6 C228.47,335.6 230.32,337.02 231.8,338 C233.28,338.98 234.73,340.48 236,341.5 C237.27,342.52 238.35,344.52 239.4,344.1 C240.45,343.68 241.32,338.87 242.3,339 C243.28,339.13 244.07,343.68 245.3,344.9 C246.53,346.12 248.23,346.55 249.7,346.3 C251.17,346.05 252.88,344.62 254.1,343.4 C255.32,342.18 255.28,340.1 257,339 C258.72,337.9 262.2,338.02 264.4,336.8 C266.6,335.58 268.25,332.92 270.2,331.7 C272.15,330.48 274.13,330.12 276.1,329.5 C278.07,328.88 280.28,328.13 282,328 C283.72,327.87 284.93,327.12 286.4,328.7 C287.87,330.28 289.58,336.52 290.8,337.5 C292.02,338.48 292.48,336.8 293.7,334.6 C294.92,332.4 296.63,326.63 298.1,324.3 C299.57,321.97 301.03,320.6 302.5,320.6 C303.97,320.6 305.67,324.67 306.9,324.3 C308.13,323.93 308.67,319.13 309.9,318.4 C311.13,317.67 312.87,320.38 314.3,319.9 C315.73,319.42 317.8,316.23 318.5,315.5" fill="none" stroke="#0F9D58" stroke-width="2" stroke-linejoin="round" stroke-linecap="round"/>
<path d="M44.5,325 C44.6,324.68 44.8,322.6 45.1,323.1 C45.4,323.6 45.72,329.13 46.3,328 C46.88,326.87 47.83,318.45 48.6,316.3 C49.37,314.15 50.15,315.38 50.9,315.1 C51.65,314.82 52.25,316.12 53.1,314.6 C53.95,313.08 55.23,306.38 56,306 C56.77,305.62 57.03,310.4 57.7,312.3 C58.37,314.2 59.23,316.35 60,317.4 C60.77,318.45 61.45,319.17 62.3,318.6 C63.15,318.03 64.25,313.82 65.1,314 C65.95,314.18 66.53,318.27 67.4,319.7 C68.27,321.13 69.43,321.45 70.3,322.6 C71.17,323.75 71.83,325.08 72.6,326.6 C73.37,328.12 73.95,329.62 74.9,331.7 C75.85,333.78 77.35,338.62 78.3,339.1 C79.25,339.58 79.83,337.07 80.6,334.6 C81.37,332.13 82.15,325.07 82.9,324.3 C83.65,323.53 84.38,328.28 85.1,330 C85.82,331.72 86.43,334.42 87.2,334.6 C87.97,334.78 88.9,334.15 89.7,331.1 C90.5,328.05 91.23,317.43 92,316.3 C92.77,315.17 93.53,321.83 94.3,324.3 C95.07,326.77 95.65,331.1 96.6,331.1 C97.55,331.1 99.05,325.63 100,324.3 C100.95,322.97 101.45,325.02 102.3,323.1 C103.15,321.18 104.15,315.47 105.1,312.8 C106.05,310.13 107.13,306.72 108,307.1 C108.87,307.48 109.53,312.23 110.3,315.1 C111.07,317.97 111.85,324.2 112.6,324.3 C113.35,324.4 113.95,315.7 114.8,315.7 C115.65,315.7 116.73,324.2 117.7,324.3 C118.67,324.4 119.65,318.68 120.6,316.3 C121.55,313.92 122.45,309.63 123.4,310 C124.35,310.37 125.35,315.75 126.3,318.5 C127.25,321.25 128.15,327.92 129.1,326.5 C130.05,325.08 131.13,311.7 132,310 C132.87,308.3 133.45,313.73 134.3,316.3 C135.15,318.87 136.15,325.32 137.1,325.4 C138.05,325.48 139.05,316.03 140,316.8 C140.95,317.57 141.85,328.75 142.8,330 C143.75,331.25 144.75,327.35 145.7,324.3 C146.65,321.25 147.65,311.7 148.5,311.7 C149.35,311.7 150.03,321.83 150.8,324.3 C151.57,326.77 152.15,327.17 153.1,326.5 C154.05,325.83 155.55,320.67 156.5,320.3 C157.45,319.93 157.93,324.22 158.8,324.3 C159.67,324.38 160.75,320.05 161.7,320.8 C162.65,321.55 163.55,326.42 164.5,328.8 C165.45,331.18 166.48,334.15 167.4,335.1 C168.32,336.05 169.23,334.18 170,334.5 C170.77,334.82 170.83,336.75 172,337 C173.17,337.25 175.33,335.83 177,336 C178.67,336.17 180.33,337.67 182,338 C183.67,338.33 185.5,337.83 187,338 C188.5,338.17 189.67,338.67 191,339 C192.33,339.33 193.67,339.5 195,340 C196.33,340.5 197.5,341.33 199,342 C200.5,342.67 202.17,343.5 204,344 C205.83,344.5 208,344.75 210,345 C212,345.25 214,345.33 216,345.5 C218,345.67 219.67,345.92 222,346 C224.33,346.08 227.33,345.95 230,346 C232.67,346.05 235.33,346.22 238,346.3 C240.67,346.38 243.57,346.58 246,346.5 C248.43,346.42 250.93,346.22 252.6,345.8 C254.27,345.38 255.02,344.63 256,344 C256.98,343.37 257.1,343.08 258.5,342 C259.9,340.92 262.2,338.98 264.4,337.5 C266.6,336.02 269.27,334.18 271.7,333.1 C274.13,332.02 276.55,331.73 279,331 C281.45,330.27 284.43,328.1 286.4,328.7 C288.37,329.3 289.58,334.1 290.8,334.6 C292.02,335.1 292.48,332.42 293.7,331.7 C294.92,330.98 297.12,329.82 298.1,330.3 C299.08,330.78 298.87,335.6 299.6,334.6 C300.33,333.6 301.28,325.52 302.5,324.3 C303.72,323.08 305.67,328.77 306.9,327.3 C308.13,325.83 308.67,316.72 309.9,315.5 C311.13,314.28 312.87,320.25 314.3,320 C315.73,319.75 317.8,315 318.5,314" fill="none" stroke="#4285F4" stroke-width="2" stroke-linejoin="round" stroke-linecap="round"/>
<rect x="44.95" y="203.6" width="273.85" height="154.8" stroke="#222222" stroke-width="1.45" fill="none" stroke-linejoin="round"/>
<line x1="78.75" y1="358.4" x2="78.75" y2="354.6" stroke="#222222" stroke-width="1.3" />
<line x1="113" y1="358.4" x2="113" y2="354.6" stroke="#222222" stroke-width="1.3" />
<line x1="147.25" y1="358.4" x2="147.25" y2="354.6" stroke="#222222" stroke-width="1.3" />
<line x1="181.5" y1="358.4" x2="181.5" y2="354.6" stroke="#222222" stroke-width="1.3" />
<line x1="215.75" y1="358.4" x2="215.75" y2="354.6" stroke="#222222" stroke-width="1.3" />
<line x1="250" y1="358.4" x2="250" y2="354.6" stroke="#222222" stroke-width="1.3" />
<line x1="284.25" y1="358.4" x2="284.25" y2="354.6" stroke="#222222" stroke-width="1.3" />
<text x="44.5" y="376.8" font-size="12.8" text-anchor="middle" fill="#222222" >-6</text>
<text x="113" y="376.8" font-size="12.8" text-anchor="middle" fill="#222222" >-4</text>
<text x="181.5" y="376.8" font-size="12.8" text-anchor="middle" fill="#222222" >-2</text>
<text x="250" y="376.8" font-size="12.8" text-anchor="middle" fill="#222222" >0</text>
<text x="318.5" y="376.8" font-size="12.8" text-anchor="middle" fill="#222222" >2</text>
<text transform="translate(26.3,277) rotate(-90)" text-anchor="middle" font-size="13.7" fill="#222222">PDOS</text>
<text x="182.4" y="398.2" text-anchor="middle" font-size="13.7" fill="#222222" xml:space="preserve">Energy (eV)</text>
<rect x="227.4" y="208.1" width="20.4" height="9.4" fill="url(#lgR)" stroke="#DB4437" stroke-width="1.6"/>
<text x="251.8" y="216.9" font-size="11.9" text-anchor="start" fill="#222222" >Total P</text>
<rect x="227.4" y="222.5" width="20.4" height="9.3" fill="url(#lgS)" stroke="#c8c8c8" stroke-width="1.6"/>
<text x="251.8" y="231.25" font-size="11.9" text-anchor="start" fill="#222222" >s</text>
<rect x="227.4" y="237.5" width="20.4" height="9" fill="url(#lgB)" stroke="#4285F4" stroke-width="1.6"/>
<text x="251.8" y="246.1" font-size="11.9" fill="#222222">p<tspan font-size="8.6" dy="3">x</tspan></text>
<rect x="227.4" y="254.7" width="20.4" height="9.1" fill="url(#lgG)" stroke="#0F9D58" stroke-width="1.6"/>
<text x="251.8" y="263.35" font-size="11.9" fill="#222222">p<tspan font-size="8.6" dy="3">y</tspan></text>
<rect x="227.4" y="272" width="20.4" height="9.1" fill="url(#lgY)" stroke="#F4B400" stroke-width="1.6"/>
<text x="251.8" y="280.65" font-size="11.9" fill="#222222">p<tspan font-size="8.6" dy="3">z</tspan></text>
<text x="357" y="222.7" font-size="23.5" text-anchor="start" fill="#222222" >c</text>
<path d="M408.6,247.9 C408.85,248.75 409.53,251.98 410.1,253 C410.67,254.02 411.38,252.53 412,254 C412.62,255.47 413.2,260.92 413.8,261.8 C414.4,262.68 414.97,259.93 415.6,259.3 C416.23,258.67 416.92,256.95 417.6,258 C418.28,259.05 418.93,265.18 419.7,265.6 C420.47,266.02 421.48,261.55 422.2,260.5 C422.92,259.45 423.42,258.72 424,259.3 C424.58,259.88 425.17,263.58 425.7,264 C426.23,264.42 426.52,258.38 427.2,261.8 C427.88,265.22 428.87,283.87 429.8,284.5 C430.73,285.13 431.88,267.9 432.8,265.6 C433.72,263.3 434.33,267.12 435.3,270.7 C436.27,274.28 437.47,288.17 438.6,287.1 C439.73,286.03 441.08,265.57 442.1,264.3 C443.12,263.03 443.72,275.07 444.7,279.5 C445.68,283.93 447.12,290.65 448,290.9 C448.88,291.15 449.28,287.12 450,281 C450.72,274.88 451.58,254.67 452.3,254.2 C453.02,253.73 453.42,281.27 454.3,278.2 C455.18,275.13 456.63,240.85 457.6,235.8 C458.57,230.75 459.27,243.78 460.1,247.9 C460.93,252.02 461.67,255.45 462.6,260.5 C463.53,265.55 464.85,278.28 465.7,278.2 C466.55,278.12 466.95,268.42 467.7,260 C468.45,251.58 469.4,231.4 470.2,227.7 C471,224 471.78,235.27 472.5,237.8 C473.22,240.33 473.87,242.9 474.5,242.9 C475.13,242.9 475.67,240.55 476.3,237.8 C476.93,235.05 477.58,225.55 478.3,226.4 C479.02,227.25 479.8,237.42 480.6,242.9 C481.4,248.38 482.25,257.83 483.1,259.3 C483.95,260.77 484.85,250.23 485.7,251.7 C486.55,253.17 487.37,267.05 488.2,268.1 C489.03,269.15 489.87,258.83 490.7,258 C491.53,257.17 492.23,264.37 493.2,263.1 C494.17,261.83 495.53,251.67 496.5,250.4 C497.47,249.13 498.15,257.18 499,255.5 C499.85,253.82 500.87,246.2 501.6,240.3 C502.33,234.4 502.68,218.42 503.4,220.1 C504.12,221.78 505.07,241.97 505.9,250.4 C506.73,258.83 507.57,267.32 508.4,270.7 C509.23,274.08 510.05,271.97 510.9,270.7 C511.75,269.43 512.65,265.85 513.5,263.1 C514.35,260.35 515.17,252.93 516,254.2 C516.83,255.47 517.75,267.33 518.5,270.7 C519.25,274.07 519.75,275.03 520.5,274.4 C521.25,273.77 522.15,268.58 523,266.9 C523.85,265.22 524.83,264.1 525.6,264.3 C526.37,264.5 526.85,269.78 527.6,268.1 C528.35,266.42 529.17,253.77 530.1,254.2 C531.03,254.63 532.35,264.38 533.2,270.7 C534.05,277.02 534.45,291.05 535.2,292.1 C535.95,293.15 537.1,279.93 537.7,277 C538.3,274.07 538.25,273.63 538.8,274.5 C539.35,275.37 540.15,283.42 541,282.2 C541.85,280.98 543.13,267.77 543.9,267.2 C544.67,266.63 544.95,275.3 545.6,278.8 C546.25,282.3 547,286.33 547.8,288.2 C548.6,290.07 549.53,288.72 550.4,290 C551.27,291.28 552.2,295.33 553,295.9 C553.8,296.47 554.5,294.38 555.2,293.4 C555.9,292.42 556.57,289 557.2,290 C557.83,291 558.28,295.7 559,299.4 C559.72,303.1 560.72,311.35 561.5,312.2 C562.28,313.05 562.93,307.22 563.7,304.5 C564.47,301.78 565.4,295.05 566.1,295.9 C566.8,296.75 567.38,305.45 567.9,309.6 C568.42,313.75 568.7,319.23 569.2,320.8 C569.7,322.37 570.03,316.87 570.9,319 C571.77,321.13 573.4,332.32 574.4,333.6 C575.4,334.88 576.05,328.13 576.9,326.7 C577.75,325.27 578.72,325.42 579.5,325 C580.28,324.58 580.88,323.05 581.6,324.2 C582.32,325.35 583.07,329.2 583.8,331.9 C584.53,334.6 585.3,339.12 586,340.4 C586.7,341.68 587.37,338.73 588,339.6 C588.63,340.47 589.08,346.88 589.8,345.6 C590.52,344.32 591.5,335.33 592.3,331.9 C593.1,328.47 593.88,325.72 594.6,325 C595.32,324.28 595.92,326.03 596.6,327.6 C597.28,329.17 597.9,335.83 598.7,334.4 C599.5,332.97 600.6,321.57 601.4,319 C602.2,316.43 602.88,321.57 603.5,319 C604.12,316.43 604.42,305.77 605.1,303.6 C605.78,301.43 606.85,306.22 607.6,306 C608.35,305.78 608.97,301.65 609.6,302.3 C610.23,302.95 610.8,310.12 611.4,309.9 C612,309.68 612.57,303.73 613.2,301 C613.83,298.27 614.45,294.12 615.2,293.5 C615.95,292.88 616.95,298.57 617.7,297.3 C618.45,296.03 618.85,286.53 619.7,285.9 C620.55,285.27 621.95,293.08 622.8,293.5 C623.65,293.92 624.05,289.67 624.8,288.4 C625.55,287.13 626.37,287.58 627.3,285.9 C628.23,284.22 629.25,281.25 630.4,278.3 C631.55,275.35 632.95,270.3 634.2,268.2 C635.45,266.1 636.93,263 637.9,265.7 C638.87,268.4 639.42,281.05 640,284.4 C640.58,287.75 640.88,288.57 641.4,285.8 C641.92,283.03 642.4,268.13 643.1,267.8 C643.8,267.47 644.85,283.8 645.6,283.8 C646.35,283.8 646.92,273.02 647.6,267.8 C648.28,262.58 649.12,256.67 649.7,252.5 C650.28,248.33 650.47,247.48 651.1,242.8 C651.73,238.12 652.8,224.4 653.5,224.4 C654.2,224.4 654.77,236.38 655.3,242.8 C655.83,249.22 656.12,261.63 656.7,262.9 C657.28,264.17 658.12,250.75 658.8,250.4 C659.48,250.05 660.17,261.48 660.8,260.8 C661.43,260.12 662.02,248.95 662.6,246.3 C663.18,243.65 663.67,246.88 664.3,244.9 C664.93,242.92 665.7,235.1 666.4,234.4 C667.1,233.7 667.85,241.15 668.5,240.7 C669.15,240.25 669.68,234.08 670.3,231.7 C670.92,229.32 671.58,226.63 672.2,226.4 C672.82,226.17 673.4,227.57 674,230.3 C674.6,233.03 675.17,239.8 675.8,242.8 C676.43,245.8 677.28,244.13 677.8,248.3 C678.32,252.47 678.6,262.02 678.9,267.8 C679.2,273.58 679.48,280.47 679.6,283 L679.6,360.2 L408.6,360.2 Z" fill="url(#gcR)" stroke="none"/>
<path d="M408.6,247.9 C408.85,248.75 409.53,251.98 410.1,253 C410.67,254.02 411.38,252.53 412,254 C412.62,255.47 413.2,260.92 413.8,261.8 C414.4,262.68 414.97,259.93 415.6,259.3 C416.23,258.67 416.92,256.95 417.6,258 C418.28,259.05 418.93,265.18 419.7,265.6 C420.47,266.02 421.48,261.55 422.2,260.5 C422.92,259.45 423.42,258.72 424,259.3 C424.58,259.88 425.17,263.58 425.7,264 C426.23,264.42 426.52,258.38 427.2,261.8 C427.88,265.22 428.87,283.87 429.8,284.5 C430.73,285.13 431.88,267.9 432.8,265.6 C433.72,263.3 434.33,267.12 435.3,270.7 C436.27,274.28 437.47,288.17 438.6,287.1 C439.73,286.03 441.08,265.57 442.1,264.3 C443.12,263.03 443.72,275.07 444.7,279.5 C445.68,283.93 447.12,290.65 448,290.9 C448.88,291.15 449.28,287.12 450,281 C450.72,274.88 451.58,254.67 452.3,254.2 C453.02,253.73 453.42,281.27 454.3,278.2 C455.18,275.13 456.63,240.85 457.6,235.8 C458.57,230.75 459.27,243.78 460.1,247.9 C460.93,252.02 461.67,255.45 462.6,260.5 C463.53,265.55 464.85,278.28 465.7,278.2 C466.55,278.12 466.95,268.42 467.7,260 C468.45,251.58 469.4,231.4 470.2,227.7 C471,224 471.78,235.27 472.5,237.8 C473.22,240.33 473.87,242.9 474.5,242.9 C475.13,242.9 475.67,240.55 476.3,237.8 C476.93,235.05 477.58,225.55 478.3,226.4 C479.02,227.25 479.8,237.42 480.6,242.9 C481.4,248.38 482.25,257.83 483.1,259.3 C483.95,260.77 484.85,250.23 485.7,251.7 C486.55,253.17 487.37,267.05 488.2,268.1 C489.03,269.15 489.87,258.83 490.7,258 C491.53,257.17 492.23,264.37 493.2,263.1 C494.17,261.83 495.53,251.67 496.5,250.4 C497.47,249.13 498.15,257.18 499,255.5 C499.85,253.82 500.87,246.2 501.6,240.3 C502.33,234.4 502.68,218.42 503.4,220.1 C504.12,221.78 505.07,241.97 505.9,250.4 C506.73,258.83 507.57,267.32 508.4,270.7 C509.23,274.08 510.05,271.97 510.9,270.7 C511.75,269.43 512.65,265.85 513.5,263.1 C514.35,260.35 515.17,252.93 516,254.2 C516.83,255.47 517.75,267.33 518.5,270.7 C519.25,274.07 519.75,275.03 520.5,274.4 C521.25,273.77 522.15,268.58 523,266.9 C523.85,265.22 524.83,264.1 525.6,264.3 C526.37,264.5 526.85,269.78 527.6,268.1 C528.35,266.42 529.17,253.77 530.1,254.2 C531.03,254.63 532.35,264.38 533.2,270.7 C534.05,277.02 534.45,291.05 535.2,292.1 C535.95,293.15 537.1,279.93 537.7,277 C538.3,274.07 538.25,273.63 538.8,274.5 C539.35,275.37 540.15,283.42 541,282.2 C541.85,280.98 543.13,267.77 543.9,267.2 C544.67,266.63 544.95,275.3 545.6,278.8 C546.25,282.3 547,286.33 547.8,288.2 C548.6,290.07 549.53,288.72 550.4,290 C551.27,291.28 552.2,295.33 553,295.9 C553.8,296.47 554.5,294.38 555.2,293.4 C555.9,292.42 556.57,289 557.2,290 C557.83,291 558.28,295.7 559,299.4 C559.72,303.1 560.72,311.35 561.5,312.2 C562.28,313.05 562.93,307.22 563.7,304.5 C564.47,301.78 565.4,295.05 566.1,295.9 C566.8,296.75 567.38,305.45 567.9,309.6 C568.42,313.75 568.7,319.23 569.2,320.8 C569.7,322.37 570.03,316.87 570.9,319 C571.77,321.13 573.4,332.32 574.4,333.6 C575.4,334.88 576.05,328.13 576.9,326.7 C577.75,325.27 578.72,325.42 579.5,325 C580.28,324.58 580.88,323.05 581.6,324.2 C582.32,325.35 583.07,329.2 583.8,331.9 C584.53,334.6 585.3,339.12 586,340.4 C586.7,341.68 587.37,338.73 588,339.6 C588.63,340.47 589.08,346.88 589.8,345.6 C590.52,344.32 591.5,335.33 592.3,331.9 C593.1,328.47 593.88,325.72 594.6,325 C595.32,324.28 595.92,326.03 596.6,327.6 C597.28,329.17 597.9,335.83 598.7,334.4 C599.5,332.97 600.6,321.57 601.4,319 C602.2,316.43 602.88,321.57 603.5,319 C604.12,316.43 604.42,305.77 605.1,303.6 C605.78,301.43 606.85,306.22 607.6,306 C608.35,305.78 608.97,301.65 609.6,302.3 C610.23,302.95 610.8,310.12 611.4,309.9 C612,309.68 612.57,303.73 613.2,301 C613.83,298.27 614.45,294.12 615.2,293.5 C615.95,292.88 616.95,298.57 617.7,297.3 C618.45,296.03 618.85,286.53 619.7,285.9 C620.55,285.27 621.95,293.08 622.8,293.5 C623.65,293.92 624.05,289.67 624.8,288.4 C625.55,287.13 626.37,287.58 627.3,285.9 C628.23,284.22 629.25,281.25 630.4,278.3 C631.55,275.35 632.95,270.3 634.2,268.2 C635.45,266.1 636.93,263 637.9,265.7 C638.87,268.4 639.42,281.05 640,284.4 C640.58,287.75 640.88,288.57 641.4,285.8 C641.92,283.03 642.4,268.13 643.1,267.8 C643.8,267.47 644.85,283.8 645.6,283.8 C646.35,283.8 646.92,273.02 647.6,267.8 C648.28,262.58 649.12,256.67 649.7,252.5 C650.28,248.33 650.47,247.48 651.1,242.8 C651.73,238.12 652.8,224.4 653.5,224.4 C654.2,224.4 654.77,236.38 655.3,242.8 C655.83,249.22 656.12,261.63 656.7,262.9 C657.28,264.17 658.12,250.75 658.8,250.4 C659.48,250.05 660.17,261.48 660.8,260.8 C661.43,260.12 662.02,248.95 662.6,246.3 C663.18,243.65 663.67,246.88 664.3,244.9 C664.93,242.92 665.7,235.1 666.4,234.4 C667.1,233.7 667.85,241.15 668.5,240.7 C669.15,240.25 669.68,234.08 670.3,231.7 C670.92,229.32 671.58,226.63 672.2,226.4 C672.82,226.17 673.4,227.57 674,230.3 C674.6,233.03 675.17,239.8 675.8,242.8 C676.43,245.8 677.28,244.13 677.8,248.3 C678.32,252.47 678.6,262.02 678.9,267.8 C679.2,273.58 679.48,280.47 679.6,283" fill="none" stroke="#DB4437" stroke-width="2.1" stroke-linejoin="round" stroke-linecap="round"/>
<path d="M408.6,304.8 C408.93,305.33 409.93,307.17 410.6,308 C411.27,308.83 411.87,309.3 412.6,309.8 C413.33,310.3 414.23,311 415,311 C415.77,311 416.42,309.58 417.2,309.8 C417.98,310.02 418.87,312.3 419.7,312.3 C420.53,312.3 421.37,310.02 422.2,309.8 C423.03,309.58 423.87,311 424.7,311 C425.53,311 426.35,308.32 427.2,309.8 C428.05,311.28 428.87,319.48 429.8,319.9 C430.73,320.32 431.8,312.95 432.8,312.3 C433.8,311.65 434.83,314.3 435.8,316 C436.77,317.7 437.55,323.12 438.6,322.5 C439.65,321.88 441.08,312.73 442.1,312.3 C443.12,311.87 443.72,318 444.7,319.9 C445.68,321.8 447.12,324.02 448,323.7 C448.88,323.38 449.28,320.73 450,318 C450.72,315.27 451.58,307.6 452.3,307.3 C453.02,307 453.42,317.47 454.3,316.2 C455.18,314.93 456.55,301.4 457.6,299.7 C458.65,298 459.25,303.05 460.6,306 C461.95,308.95 464.43,317.18 465.7,317.4 C466.97,317.62 467.45,310.45 468.2,307.3 C468.95,304.15 469.48,300.18 470.2,298.5 C470.92,296.82 471.7,297 472.5,297.2 C473.3,297.4 473.95,300.55 475,299.7 C476.05,298.85 477.73,291.47 478.8,292.1 C479.87,292.73 480.55,300.55 481.4,303.5 C482.25,306.45 483.18,309.58 483.9,309.8 C484.62,310.02 484.98,304.38 485.7,304.8 C486.42,305.22 487.37,312.1 488.2,312.3 C489.03,312.5 489.73,306.42 490.7,306 C491.67,305.58 493.03,310 494,309.8 C494.97,309.6 495.67,305.22 496.5,304.8 C497.33,304.38 498.15,307.93 499,307.3 C499.85,306.67 500.87,303.73 501.6,301 C502.33,298.27 502.68,290.07 503.4,290.9 C504.12,291.73 505.07,302.43 505.9,306 C506.73,309.57 507.57,311.03 508.4,312.3 C509.23,313.57 510.05,314.02 510.9,313.6 C511.75,313.18 512.65,311.27 513.5,309.8 C514.35,308.33 515.17,304.17 516,304.8 C516.83,305.43 517.75,312.35 518.5,313.6 C519.25,314.85 519.65,312.93 520.5,312.3 C521.35,311.67 522.75,310.02 523.6,309.8 C524.45,309.58 524.52,311.83 525.6,311 C526.68,310.17 528.83,304.37 530.1,304.8 C531.37,305.23 532.35,310.87 533.2,313.6 C534.05,316.33 534.57,320.8 535.2,321.2 C535.83,321.6 536.4,317.22 537,316 C537.6,314.78 538.13,313.68 538.8,313.9 C539.47,314.12 540.15,317.95 541,317.3 C541.85,316.65 543.07,309.85 543.9,310 C544.73,310.15 545.2,316.53 546,318.2 C546.8,319.87 547.73,319.57 548.7,320 C549.67,320.43 550.8,319.97 551.8,320.8 C552.8,321.63 553.8,325.13 554.7,325 C555.6,324.87 556.48,320.13 557.2,320 C557.92,319.87 558.28,322.5 559,324.2 C559.72,325.9 560.67,329.78 561.5,330.2 C562.33,330.62 563.13,327.98 564,326.7 C564.87,325.42 565.97,321.63 566.7,322.5 C567.43,323.37 567.83,329.77 568.4,331.9 C568.97,334.03 569.4,334.45 570.1,335.3 C570.8,336.15 571.75,336 572.6,337 C573.45,338 574.33,341.15 575.2,341.3 C576.07,341.45 576.8,338.62 577.8,337.9 C578.8,337.18 580.2,336.58 581.2,337 C582.2,337.42 583,338.97 583.8,340.4 C584.6,341.83 585.3,345.02 586,345.6 C586.7,346.18 587.32,343.68 588,343.9 C588.68,344.12 589.38,347.2 590.1,346.9 C590.82,346.6 591.55,343.47 592.3,342.1 C593.05,340.73 593.88,338.83 594.6,338.7 C595.32,338.57 595.92,340.43 596.6,341.3 C597.28,342.17 597.9,344.33 598.7,343.9 C599.5,343.47 600.33,340.15 601.4,338.7 C602.47,337.25 604,335.98 605.1,335.2 C606.2,334.42 607.18,334.37 608,334 C608.82,333.63 609.02,333.43 610,333 C610.98,332.57 612.62,332.07 613.9,331.4 C615.18,330.73 616.43,329.2 617.7,329 C618.97,328.8 620.23,330.63 621.5,330.2 C622.77,329.77 623.82,327.25 625.3,326.4 C626.78,325.55 628.72,325.95 630.4,325.1 C632.08,324.25 633.72,321.3 635.4,321.3 C637.08,321.3 639.02,325.52 640.5,325.1 C641.98,324.68 643.25,318.38 644.3,318.8 C645.35,319.22 645.97,328.03 646.8,327.6 C647.63,327.17 648.17,319.98 649.3,316.2 C650.43,312.42 652.33,305.1 653.6,304.9 C654.87,304.7 655.72,313.95 656.9,315 C658.08,316.05 659.43,312.25 660.7,311.2 C661.97,310.15 663.23,309.55 664.5,308.7 C665.77,307.85 667.03,306.95 668.3,306.1 C669.57,305.25 670.83,303.38 672.1,303.6 C673.37,303.82 674.63,304.87 675.9,307.4 C677.17,309.93 679.07,316.9 679.7,318.8 L679.7,360.2 L408.6,360.2 Z" fill="url(#gcY)" stroke="none"/>
<path d="M408.6,304.8 C408.93,305.33 409.93,307.17 410.6,308 C411.27,308.83 411.87,309.3 412.6,309.8 C413.33,310.3 414.23,311 415,311 C415.77,311 416.42,309.58 417.2,309.8 C417.98,310.02 418.87,312.3 419.7,312.3 C420.53,312.3 421.37,310.02 422.2,309.8 C423.03,309.58 423.87,311 424.7,311 C425.53,311 426.35,308.32 427.2,309.8 C428.05,311.28 428.87,319.48 429.8,319.9 C430.73,320.32 431.8,312.95 432.8,312.3 C433.8,311.65 434.83,314.3 435.8,316 C436.77,317.7 437.55,323.12 438.6,322.5 C439.65,321.88 441.08,312.73 442.1,312.3 C443.12,311.87 443.72,318 444.7,319.9 C445.68,321.8 447.12,324.02 448,323.7 C448.88,323.38 449.28,320.73 450,318 C450.72,315.27 451.58,307.6 452.3,307.3 C453.02,307 453.42,317.47 454.3,316.2 C455.18,314.93 456.55,301.4 457.6,299.7 C458.65,298 459.25,303.05 460.6,306 C461.95,308.95 464.43,317.18 465.7,317.4 C466.97,317.62 467.45,310.45 468.2,307.3 C468.95,304.15 469.48,300.18 470.2,298.5 C470.92,296.82 471.7,297 472.5,297.2 C473.3,297.4 473.95,300.55 475,299.7 C476.05,298.85 477.73,291.47 478.8,292.1 C479.87,292.73 480.55,300.55 481.4,303.5 C482.25,306.45 483.18,309.58 483.9,309.8 C484.62,310.02 484.98,304.38 485.7,304.8 C486.42,305.22 487.37,312.1 488.2,312.3 C489.03,312.5 489.73,306.42 490.7,306 C491.67,305.58 493.03,310 494,309.8 C494.97,309.6 495.67,305.22 496.5,304.8 C497.33,304.38 498.15,307.93 499,307.3 C499.85,306.67 500.87,303.73 501.6,301 C502.33,298.27 502.68,290.07 503.4,290.9 C504.12,291.73 505.07,302.43 505.9,306 C506.73,309.57 507.57,311.03 508.4,312.3 C509.23,313.57 510.05,314.02 510.9,313.6 C511.75,313.18 512.65,311.27 513.5,309.8 C514.35,308.33 515.17,304.17 516,304.8 C516.83,305.43 517.75,312.35 518.5,313.6 C519.25,314.85 519.65,312.93 520.5,312.3 C521.35,311.67 522.75,310.02 523.6,309.8 C524.45,309.58 524.52,311.83 525.6,311 C526.68,310.17 528.83,304.37 530.1,304.8 C531.37,305.23 532.35,310.87 533.2,313.6 C534.05,316.33 534.57,320.8 535.2,321.2 C535.83,321.6 536.4,317.22 537,316 C537.6,314.78 538.13,313.68 538.8,313.9 C539.47,314.12 540.15,317.95 541,317.3 C541.85,316.65 543.07,309.85 543.9,310 C544.73,310.15 545.2,316.53 546,318.2 C546.8,319.87 547.73,319.57 548.7,320 C549.67,320.43 550.8,319.97 551.8,320.8 C552.8,321.63 553.8,325.13 554.7,325 C555.6,324.87 556.48,320.13 557.2,320 C557.92,319.87 558.28,322.5 559,324.2 C559.72,325.9 560.67,329.78 561.5,330.2 C562.33,330.62 563.13,327.98 564,326.7 C564.87,325.42 565.97,321.63 566.7,322.5 C567.43,323.37 567.83,329.77 568.4,331.9 C568.97,334.03 569.4,334.45 570.1,335.3 C570.8,336.15 571.75,336 572.6,337 C573.45,338 574.33,341.15 575.2,341.3 C576.07,341.45 576.8,338.62 577.8,337.9 C578.8,337.18 580.2,336.58 581.2,337 C582.2,337.42 583,338.97 583.8,340.4 C584.6,341.83 585.3,345.02 586,345.6 C586.7,346.18 587.32,343.68 588,343.9 C588.68,344.12 589.38,347.2 590.1,346.9 C590.82,346.6 591.55,343.47 592.3,342.1 C593.05,340.73 593.88,338.83 594.6,338.7 C595.32,338.57 595.92,340.43 596.6,341.3 C597.28,342.17 597.9,344.33 598.7,343.9 C599.5,343.47 600.33,340.15 601.4,338.7 C602.47,337.25 604,335.98 605.1,335.2 C606.2,334.42 607.18,334.37 608,334 C608.82,333.63 609.02,333.43 610,333 C610.98,332.57 612.62,332.07 613.9,331.4 C615.18,330.73 616.43,329.2 617.7,329 C618.97,328.8 620.23,330.63 621.5,330.2 C622.77,329.77 623.82,327.25 625.3,326.4 C626.78,325.55 628.72,325.95 630.4,325.1 C632.08,324.25 633.72,321.3 635.4,321.3 C637.08,321.3 639.02,325.52 640.5,325.1 C641.98,324.68 643.25,318.38 644.3,318.8 C645.35,319.22 645.97,328.03 646.8,327.6 C647.63,327.17 648.17,319.98 649.3,316.2 C650.43,312.42 652.33,305.1 653.6,304.9 C654.87,304.7 655.72,313.95 656.9,315 C658.08,316.05 659.43,312.25 660.7,311.2 C661.97,310.15 663.23,309.55 664.5,308.7 C665.77,307.85 667.03,306.95 668.3,306.1 C669.57,305.25 670.83,303.38 672.1,303.6 C673.37,303.82 674.63,304.87 675.9,307.4 C677.17,309.93 679.07,316.9 679.7,318.8" fill="none" stroke="#F4B400" stroke-width="2.1" stroke-linejoin="round" stroke-linecap="round"/>
<rect x="408.3" y="347.4" width="271.4" height="12.8" fill="url(#gcB)"/>
<line x1="408.3" y1="347.9" x2="679.7" y2="347.9" stroke="#3a78ee" stroke-width="1.8" />
<line x1="611.9" y1="288.4" x2="611.9" y2="360" stroke="#333" stroke-width="1.3" stroke-dasharray="4.5,3"/>
<rect x="408.3" y="202.5" width="271.4" height="157.7" stroke="#222222" stroke-width="1.45" fill="none" stroke-linejoin="round"/>
<line x1="442.4" y1="360.2" x2="442.4" y2="356.5" stroke="#222222" stroke-width="1.3" />
<line x1="476.3" y1="360.2" x2="476.3" y2="356.5" stroke="#222222" stroke-width="1.3" />
<line x1="510.2" y1="360.2" x2="510.2" y2="356.5" stroke="#222222" stroke-width="1.3" />
<line x1="544.1" y1="360.2" x2="544.1" y2="356.5" stroke="#222222" stroke-width="1.3" />
<line x1="578" y1="360.2" x2="578" y2="356.5" stroke="#222222" stroke-width="1.3" />
<line x1="611.9" y1="360.2" x2="611.9" y2="356.5" stroke="#222222" stroke-width="1.3" />
<line x1="645.8" y1="360.2" x2="645.8" y2="356.5" stroke="#222222" stroke-width="1.3" />
<text x="408.5" y="378.4" font-size="12.8" text-anchor="middle" fill="#222222" >-6</text>
<text x="476.3" y="378.4" font-size="12.8" text-anchor="middle" fill="#222222" >-4</text>
<text x="544.1" y="378.4" font-size="12.8" text-anchor="middle" fill="#222222" >-2</text>
<text x="611.9" y="378.4" font-size="12.8" text-anchor="middle" fill="#222222" >0</text>
<text x="679.7" y="378.4" font-size="12.8" text-anchor="middle" fill="#222222" >2</text>
<text transform="translate(391.5,276.2) rotate(-90)" text-anchor="middle" font-size="13.7" fill="#222222">PDOS</text>
<text x="544" y="398.2" font-size="13.7" text-anchor="middle" fill="#222222" >Energy(eV)</text>
<rect x="540.8" y="209.2" width="20.6" height="10" fill="url(#lgR)" stroke="#aaaaaa" stroke-width="0.8"/>
<text x="565.3" y="218.4" font-size="13" fill="#222222">Total Mg<tspan font-size="9.1" dy="3.2">0.06</tspan><tspan dy="-3.2">P</tspan></text>
<rect x="540.8" y="228.5" width="20.6" height="9.6" fill="url(#lgY)" stroke="#aaaaaa" stroke-width="0.8"/>
<text x="565.3" y="236.9" font-size="13" text-anchor="start" fill="#222222" >Total Mg</text>
<rect x="540.8" y="244.6" width="20.6" height="9.6" fill="url(#lgB)" stroke="#aaaaaa" stroke-width="0.8"/>
<text x="565.3" y="252.9" font-size="13" text-anchor="start" fill="#222222" >Total P</text>
<text x="-0.6" y="434.6" font-size="23.5" text-anchor="start" fill="#222222" >d</text>
<rect x="46.5" y="421.75" width="275.3" height="155.15" stroke="#222222" stroke-width="1.45" fill="none" stroke-linejoin="round"/>
<line x1="46.5" y1="576.9" x2="52.7" y2="576.9" stroke="#222222" stroke-width="1.3" />
<text x="38.6" y="581.5" font-size="12.8" text-anchor="end" fill="#222222" >-0.8</text>
<line x1="46.5" y1="545.77" x2="50.8" y2="545.77" stroke="#222222" stroke-width="1.3" />
<line x1="46.5" y1="514.64" x2="52.7" y2="514.64" stroke="#222222" stroke-width="1.3" />
<text x="38.6" y="519.24" font-size="12.8" text-anchor="end" fill="#222222" >-0.9</text>
<line x1="46.5" y1="483.51" x2="50.8" y2="483.51" stroke="#222222" stroke-width="1.3" />
<line x1="46.5" y1="452.38" x2="52.7" y2="452.38" stroke="#222222" stroke-width="1.3" />
<text x="38.6" y="456.98" font-size="12.8" text-anchor="end" fill="#222222" >-1.0</text>
<text transform="translate(9.9,504.7) rotate(-90)" text-anchor="middle" font-size="13.7" fill="#222222" xml:space="preserve">Adsor. Energy  (eV)</text>
<rect x="101.1" y="545.96" width="14.3" height="30.94" stroke="#DB4437" stroke-width="0.6" fill="#DB4437" />
<rect x="142.5" y="492.85" width="13.9" height="84.05" stroke="#333" stroke-width="0.6" fill="#4285F4" />
<rect x="197.3" y="452.38" width="14.3" height="124.52" stroke="#333" stroke-width="0.6" fill="#4285F4" />
<rect x="252.6" y="463.59" width="13.9" height="113.31" stroke="#333" stroke-width="0.6" fill="#4285F4" />
<text x="97.3" y="608.6" font-size="13.8" text-anchor="start" fill="#222222" >Mg</text>
<text x="123.8" y="608.6" font-size="13.8" fill="#222222" >Mg<tspan font-size="9.6" dy="3.4">0.03</tspan><tspan dy="-3.4">P</tspan></text>
<text x="177.6" y="608.6" font-size="13.8" fill="#222222" >Mg<tspan font-size="9.6" dy="3.4">0.06</tspan><tspan dy="-3.4">P</tspan></text>
<text x="235.5" y="608.6" font-size="13.8" fill="#222222" >Mg<tspan font-size="9.6" dy="3.4">0.12</tspan><tspan dy="-3.4">P</tspan></text>
<text x="356.4" y="434.6" font-size="23.5" text-anchor="start" fill="#222222" >e</text>
<path d="M437.5,551.2 C437.71,551.19 438.35,551.18 438.78,551.15 C439.2,551.12 439.63,551.07 440.06,551 C440.48,550.94 440.91,550.85 441.33,550.76 C441.76,550.66 442.18,550.54 442.61,550.41 C443.04,550.28 443.46,550.14 443.89,549.97 C444.31,549.81 444.74,549.64 445.17,549.45 C445.59,549.25 446.02,549.05 446.44,548.83 C446.87,548.61 447.29,548.37 447.72,548.13 C448.15,547.88 448.57,547.62 449,547.34 C449.42,547.07 449.85,546.78 450.27,546.48 C450.7,546.19 451.13,545.88 451.55,545.56 C451.98,545.24 452.4,544.9 452.83,544.56 C453.26,544.22 453.68,543.87 454.11,543.51 C454.53,543.15 454.96,542.78 455.38,542.41 C455.81,542.03 456.24,541.65 456.66,541.26 C457.09,540.87 457.51,540.48 457.94,540.08 C458.37,539.67 458.79,539.27 459.22,538.86 C459.64,538.45 460.07,538.03 460.5,537.62 C460.92,537.2 461.35,536.78 461.77,536.36 C462.2,535.94 462.62,535.52 463.05,535.1 C463.48,534.68 463.9,534.26 464.33,533.84 C464.75,533.42 465.18,533 465.61,532.58 C466.03,532.17 466.46,531.75 466.88,531.34 C467.31,530.93 467.73,530.53 468.16,530.12 C468.59,529.72 469.01,529.33 469.44,528.94 C469.86,528.55 470.29,528.17 470.72,527.79 C471.14,527.42 471.57,527.05 471.99,526.69 C472.42,526.33 472.84,525.98 473.27,525.64 C473.7,525.3 474.12,524.96 474.55,524.64 C474.97,524.32 475.4,524.01 475.83,523.72 C476.25,523.42 476.68,523.13 477.1,522.86 C477.53,522.58 477.95,522.32 478.38,522.07 C478.81,521.83 479.23,521.59 479.66,521.37 C480.08,521.15 480.51,520.95 480.94,520.75 C481.36,520.56 481.79,520.39 482.21,520.23 C482.64,520.06 483.06,519.92 483.49,519.79 C483.92,519.66 484.34,519.54 484.77,519.44 C485.19,519.35 485.62,519.26 486.05,519.2 C486.47,519.13 486.9,519.08 487.32,519.05 C487.75,519.02 488.16,519 488.6,519 C489.04,519 489.49,519.02 489.94,519.07 C490.39,519.11 490.83,519.18 491.28,519.26 C491.73,519.35 492.17,519.46 492.62,519.59 C493.07,519.72 493.51,519.87 493.96,520.04 C494.41,520.22 494.85,520.41 495.3,520.63 C495.75,520.84 496.19,521.07 496.64,521.33 C497.09,521.58 497.53,521.85 497.98,522.15 C498.43,522.44 498.87,522.75 499.32,523.08 C499.77,523.41 500.21,523.75 500.66,524.12 C501.11,524.48 501.55,524.86 502,525.25 C502.45,525.65 502.89,526.06 503.34,526.48 C503.79,526.91 504.23,527.35 504.68,527.8 C505.13,528.25 505.57,528.72 506.02,529.19 C506.47,529.67 506.91,530.16 507.36,530.66 C507.81,531.15 508.25,531.66 508.7,532.18 C509.15,532.7 509.59,533.22 510.04,533.75 C510.49,534.28 510.93,534.82 511.38,535.37 C511.83,535.91 512.27,536.46 512.72,537.01 C513.17,537.56 513.61,538.12 514.06,538.67 C514.51,539.23 514.95,539.79 515.4,540.35 C515.85,540.91 516.29,541.47 516.74,542.03 C517.19,542.58 517.63,543.14 518.08,543.69 C518.53,544.24 518.97,544.79 519.42,545.33 C519.87,545.88 520.31,546.42 520.76,546.95 C521.21,547.48 521.65,548 522.1,548.52 C522.55,549.04 522.99,549.55 523.44,550.04 C523.89,550.54 524.33,551.03 524.78,551.51 C525.23,551.98 525.67,552.45 526.12,552.9 C526.57,553.35 527.01,553.79 527.46,554.22 C527.91,554.64 528.35,555.05 528.8,555.45 C529.25,555.84 529.69,556.22 530.14,556.58 C530.59,556.95 531.03,557.29 531.48,557.62 C531.93,557.95 532.37,558.26 532.82,558.55 C533.27,558.85 533.71,559.12 534.16,559.37 C534.61,559.63 535.05,559.86 535.5,560.07 C535.95,560.29 536.39,560.48 536.84,560.66 C537.29,560.83 537.73,560.98 538.18,561.11 C538.63,561.24 539.07,561.35 539.52,561.44 C539.97,561.52 540.41,561.59 540.86,561.63 C541.31,561.68 541.74,561.7 542.2,561.7 C542.66,561.7 543.13,561.67 543.6,561.61 C544.07,561.55 544.53,561.46 545,561.35 C545.47,561.23 545.93,561.08 546.4,560.91 C546.87,560.73 547.33,560.53 547.8,560.3 C548.27,560.07 548.73,559.81 549.2,559.52 C549.67,559.23 550.13,558.92 550.6,558.58 C551.07,558.24 551.53,557.87 552,557.48 C552.47,557.09 552.93,556.67 553.4,556.23 C553.87,555.79 554.33,555.32 554.8,554.84 C555.27,554.35 555.73,553.84 556.2,553.31 C556.67,552.78 557.13,552.23 557.6,551.66 C558.07,551.09 558.53,550.5 559,549.89 C559.47,549.28 559.93,548.66 560.4,548.02 C560.87,547.38 561.33,546.72 561.8,546.06 C562.27,545.39 562.73,544.71 563.2,544.01 C563.67,543.32 564.13,542.62 564.6,541.9 C565.07,541.19 565.53,540.47 566,539.74 C566.47,539.01 566.93,538.27 567.4,537.53 C567.87,536.79 568.33,536.04 568.8,535.3 C569.27,534.55 569.73,533.8 570.2,533.05 C570.67,532.3 571.13,531.55 571.6,530.8 C572.07,530.06 572.53,529.31 573,528.57 C573.47,527.83 573.93,527.09 574.4,526.36 C574.87,525.63 575.33,524.91 575.8,524.2 C576.27,523.48 576.73,522.78 577.2,522.09 C577.67,521.39 578.13,520.71 578.6,520.04 C579.07,519.38 579.53,518.72 580,518.08 C580.47,517.44 580.93,516.82 581.4,516.21 C581.87,515.6 582.33,515.01 582.8,514.44 C583.27,513.87 583.73,513.32 584.2,512.79 C584.67,512.26 585.13,511.75 585.6,511.26 C586.07,510.78 586.53,510.31 587,509.87 C587.47,509.43 587.93,509.01 588.4,508.62 C588.87,508.23 589.33,507.86 589.8,507.52 C590.27,507.18 590.73,506.87 591.2,506.58 C591.67,506.29 592.13,506.03 592.6,505.8 C593.07,505.57 593.53,505.37 594,505.19 C594.47,505.02 594.93,504.87 595.4,504.75 C595.87,504.64 596.33,504.55 596.8,504.49 C597.27,504.43 597.74,504.41 598.2,504.4 C598.66,504.39 599.09,504.41 599.54,504.42 C599.99,504.43 600.43,504.46 600.88,504.48 C601.33,504.51 601.77,504.55 602.22,504.59 C602.67,504.63 603.11,504.68 603.56,504.73 C604.01,504.78 604.45,504.85 604.9,504.91 C605.35,504.98 605.79,505.06 606.24,505.14 C606.69,505.22 607.13,505.3 607.58,505.39 C608.03,505.49 608.47,505.59 608.92,505.69 C609.37,505.79 609.81,505.9 610.26,506.02 C610.71,506.13 611.15,506.25 611.6,506.38 C612.05,506.5 612.49,506.63 612.94,506.77 C613.39,506.9 613.83,507.04 614.28,507.18 C614.73,507.33 615.17,507.47 615.62,507.62 C616.07,507.77 616.51,507.93 616.96,508.09 C617.41,508.24 617.85,508.4 618.3,508.57 C618.75,508.73 619.19,508.9 619.64,509.06 C620.09,509.23 620.53,509.4 620.98,509.57 C621.43,509.75 621.87,509.92 622.32,510.09 C622.77,510.27 623.21,510.44 623.66,510.62 C624.11,510.8 624.55,510.97 625,511.15 C625.45,511.33 625.89,511.5 626.34,511.68 C626.79,511.86 627.23,512.03 627.68,512.21 C628.13,512.38 628.57,512.55 629.02,512.73 C629.47,512.9 629.91,513.07 630.36,513.24 C630.81,513.4 631.25,513.57 631.7,513.73 C632.15,513.9 632.59,514.06 633.04,514.21 C633.49,514.37 633.93,514.53 634.38,514.68 C634.83,514.83 635.27,514.97 635.72,515.12 C636.17,515.26 636.61,515.4 637.06,515.53 C637.51,515.67 637.95,515.8 638.4,515.92 C638.85,516.05 639.29,516.17 639.74,516.28 C640.19,516.4 640.63,516.51 641.08,516.61 C641.53,516.71 641.97,516.81 642.42,516.91 C642.87,517 643.31,517.08 643.76,517.16 C644.21,517.24 644.65,517.32 645.1,517.39 C645.55,517.45 645.99,517.52 646.44,517.57 C646.89,517.62 647.33,517.67 647.78,517.71 C648.23,517.75 648.67,517.79 649.12,517.82 C649.57,517.84 650.01,517.87 650.46,517.88 C650.91,517.89 651.58,517.9 651.8,517.9" fill="none" stroke="#F4B400" stroke-width="1.9" stroke-linejoin="round" stroke-linecap="round"/>
<path d="M437.5,551.2 C437.71,551.19 438.36,551.17 438.78,551.12 C439.21,551.06 439.64,550.97 440.06,550.86 C440.49,550.75 440.92,550.61 441.35,550.44 C441.78,550.28 442.2,550.08 442.63,549.86 C443.06,549.64 443.49,549.39 443.91,549.11 C444.34,548.84 444.77,548.54 445.19,548.21 C445.62,547.89 446.05,547.54 446.48,547.16 C446.91,546.79 447.33,546.39 447.76,545.97 C448.19,545.55 448.62,545.1 449.04,544.64 C449.47,544.17 449.9,543.68 450.32,543.17 C450.75,542.67 451.18,542.14 451.61,541.59 C452.04,541.05 452.46,540.49 452.89,539.91 C453.32,539.33 453.75,538.73 454.17,538.12 C454.6,537.51 455.03,536.88 455.45,536.24 C455.88,535.6 456.31,534.95 456.74,534.29 C457.17,533.62 457.59,532.95 458.02,532.27 C458.45,531.59 458.88,530.89 459.3,530.2 C459.73,529.5 460.16,528.79 460.58,528.09 C461.01,527.38 461.44,526.66 461.87,525.95 C462.3,525.24 462.72,524.52 463.15,523.8 C463.58,523.08 464,522.36 464.43,521.65 C464.86,520.94 465.29,520.22 465.72,519.51 C466.14,518.81 466.57,518.1 467,517.4 C467.43,516.71 467.85,516.01 468.28,515.33 C468.71,514.65 469.13,513.98 469.56,513.31 C469.99,512.65 470.42,512 470.85,511.36 C471.27,510.72 471.7,510.09 472.13,509.48 C472.56,508.87 472.98,508.27 473.41,507.69 C473.84,507.11 474.26,506.55 474.69,506.01 C475.12,505.46 475.55,504.93 475.98,504.43 C476.4,503.92 476.83,503.43 477.26,502.96 C477.69,502.5 478.11,502.05 478.54,501.63 C478.97,501.21 479.39,500.81 479.82,500.44 C480.25,500.06 480.68,499.71 481.11,499.39 C481.53,499.06 481.96,498.76 482.39,498.49 C482.81,498.21 483.24,497.96 483.67,497.74 C484.1,497.52 484.52,497.32 484.95,497.16 C485.38,496.99 485.81,496.85 486.24,496.74 C486.66,496.63 487.09,496.54 487.52,496.48 C487.95,496.43 488.36,496.4 488.8,496.4 C489.24,496.4 489.71,496.43 490.16,496.48 C490.61,496.54 491.06,496.62 491.51,496.73 C491.97,496.84 492.42,496.98 492.87,497.14 C493.32,497.31 493.78,497.5 494.23,497.72 C494.68,497.93 495.14,498.18 495.59,498.45 C496.04,498.72 496.49,499.01 496.94,499.33 C497.4,499.65 497.85,500 498.3,500.36 C498.75,500.73 499.21,501.12 499.66,501.54 C500.11,501.95 500.57,502.39 501.02,502.85 C501.47,503.3 501.92,503.78 502.38,504.28 C502.83,504.78 503.28,505.29 503.73,505.83 C504.19,506.36 504.64,506.92 505.09,507.49 C505.54,508.06 506,508.64 506.45,509.24 C506.9,509.84 507.35,510.46 507.81,511.09 C508.26,511.71 508.71,512.36 509.16,513.01 C509.62,513.66 510.07,514.32 510.52,514.99 C510.97,515.66 511.43,516.34 511.88,517.02 C512.33,517.7 512.78,518.4 513.24,519.09 C513.69,519.79 514.14,520.49 514.59,521.19 C515.04,521.89 515.5,522.6 515.95,523.3 C516.4,524 516.86,524.71 517.31,525.41 C517.76,526.11 518.21,526.81 518.66,527.51 C519.12,528.2 519.57,528.9 520.02,529.58 C520.48,530.26 520.93,530.94 521.38,531.61 C521.83,532.28 522.29,532.94 522.74,533.59 C523.19,534.24 523.64,534.89 524.1,535.51 C524.55,536.14 525,536.76 525.45,537.36 C525.9,537.96 526.36,538.54 526.81,539.11 C527.26,539.68 527.72,540.24 528.17,540.77 C528.62,541.31 529.07,541.82 529.52,542.32 C529.98,542.82 530.43,543.3 530.88,543.75 C531.34,544.21 531.79,544.65 532.24,545.06 C532.69,545.48 533.14,545.87 533.6,546.24 C534.05,546.6 534.5,546.95 534.96,547.27 C535.41,547.59 535.86,547.88 536.31,548.15 C536.76,548.42 537.22,548.67 537.67,548.88 C538.12,549.1 538.58,549.29 539.03,549.46 C539.48,549.62 539.93,549.76 540.38,549.87 C540.84,549.98 541.29,550.06 541.74,550.12 C542.2,550.17 542.63,550.2 543.1,550.2 C543.57,550.2 544.07,550.16 544.55,550.09 C545.04,550.02 545.52,549.91 546,549.76 C546.49,549.61 546.97,549.43 547.46,549.21 C547.94,548.99 548.43,548.74 548.91,548.45 C549.39,548.16 549.88,547.83 550.36,547.47 C550.85,547.11 551.33,546.72 551.82,546.29 C552.3,545.87 552.78,545.41 553.27,544.92 C553.75,544.43 554.24,543.9 554.72,543.35 C555.2,542.8 555.69,542.22 556.17,541.61 C556.66,541 557.14,540.36 557.62,539.7 C558.11,539.04 558.59,538.35 559.08,537.63 C559.56,536.92 560.05,536.18 560.53,535.42 C561.01,534.66 561.5,533.88 561.98,533.08 C562.47,532.28 562.95,531.46 563.44,530.63 C563.92,529.79 564.4,528.94 564.89,528.07 C565.37,527.2 565.86,526.32 566.34,525.43 C566.82,524.54 567.31,523.63 567.79,522.72 C568.28,521.81 568.76,520.88 569.25,519.96 C569.73,519.03 570.21,518.1 570.7,517.16 C571.18,516.23 571.67,515.29 572.15,514.35 C572.63,513.41 573.12,512.47 573.6,511.54 C574.09,510.6 574.57,509.67 575.06,508.74 C575.54,507.82 576.02,506.89 576.51,505.98 C576.99,505.07 577.48,504.16 577.96,503.27 C578.44,502.38 578.93,501.5 579.41,500.63 C579.9,499.76 580.38,498.91 580.87,498.07 C581.35,497.24 581.83,496.42 582.32,495.62 C582.8,494.82 583.29,494.04 583.77,493.28 C584.25,492.52 584.74,491.78 585.22,491.07 C585.71,490.35 586.19,489.66 586.68,489 C587.16,488.34 587.64,487.7 588.13,487.09 C588.61,486.48 589.1,485.9 589.58,485.35 C590.06,484.8 590.55,484.27 591.03,483.78 C591.52,483.29 592,482.83 592.49,482.41 C592.97,481.98 593.45,481.59 593.94,481.23 C594.42,480.87 594.91,480.54 595.39,480.25 C595.87,479.96 596.36,479.71 596.84,479.49 C597.33,479.27 597.81,479.09 598.3,478.94 C598.78,478.79 599.26,478.68 599.75,478.61 C600.23,478.54 600.74,478.51 601.2,478.5 C601.66,478.49 602.09,478.52 602.53,478.56 C602.97,478.59 603.42,478.65 603.86,478.72 C604.3,478.79 604.75,478.89 605.19,478.99 C605.63,479.1 606.08,479.23 606.52,479.38 C606.96,479.52 607.41,479.68 607.85,479.86 C608.29,480.04 608.74,480.24 609.18,480.45 C609.62,480.66 610.07,480.89 610.51,481.14 C610.95,481.38 611.4,481.64 611.84,481.92 C612.28,482.19 612.73,482.48 613.17,482.79 C613.61,483.09 614.06,483.41 614.5,483.74 C614.94,484.07 615.39,484.42 615.83,484.77 C616.27,485.13 616.72,485.5 617.16,485.88 C617.6,486.26 618.05,486.65 618.49,487.05 C618.93,487.45 619.38,487.86 619.82,488.27 C620.26,488.69 620.71,489.12 621.15,489.55 C621.59,489.98 622.04,490.42 622.48,490.87 C622.92,491.31 623.37,491.77 623.81,492.22 C624.25,492.68 624.7,493.14 625.14,493.6 C625.58,494.06 626.03,494.53 626.47,495 C626.91,495.46 627.36,495.93 627.8,496.4 C628.24,496.87 628.69,497.34 629.13,497.8 C629.57,498.27 630.02,498.74 630.46,499.2 C630.9,499.66 631.35,500.12 631.79,500.58 C632.23,501.03 632.68,501.49 633.12,501.93 C633.56,502.38 634.01,502.82 634.45,503.25 C634.89,503.68 635.34,504.11 635.78,504.53 C636.22,504.94 636.67,505.35 637.11,505.75 C637.55,506.15 638,506.54 638.44,506.92 C638.88,507.3 639.33,507.67 639.77,508.03 C640.21,508.38 640.66,508.73 641.1,509.06 C641.54,509.39 641.99,509.71 642.43,510.01 C642.87,510.32 643.32,510.61 643.76,510.88 C644.2,511.16 644.65,511.42 645.09,511.66 C645.53,511.91 645.98,512.14 646.42,512.35 C646.86,512.56 647.31,512.76 647.75,512.94 C648.19,513.12 648.64,513.28 649.08,513.42 C649.52,513.57 649.97,513.7 650.41,513.81 C650.85,513.91 651.3,514.01 651.74,514.08 C652.18,514.15 652.63,514.21 653.07,514.24 C653.51,514.28 654.18,514.29 654.4,514.3" fill="none" stroke="#0F9D58" stroke-width="1.9" stroke-linejoin="round" stroke-linecap="round"/>
<path d="M437.5,551.2 C437.74,551.18 438.44,551.17 438.92,551.1 C439.39,551.03 439.86,550.92 440.33,550.78 C440.8,550.65 441.27,550.47 441.75,550.27 C442.22,550.06 442.69,549.82 443.16,549.55 C443.63,549.27 444.1,548.97 444.57,548.63 C445.05,548.29 445.52,547.92 445.99,547.52 C446.46,547.11 446.93,546.68 447.41,546.22 C447.88,545.76 448.35,545.26 448.82,544.74 C449.29,544.23 449.76,543.68 450.24,543.1 C450.71,542.53 451.18,541.93 451.65,541.3 C452.12,540.68 452.59,540.02 453.06,539.35 C453.54,538.68 454.01,537.98 454.48,537.27 C454.95,536.55 455.42,535.81 455.89,535.06 C456.37,534.31 456.84,533.53 457.31,532.74 C457.78,531.96 458.25,531.15 458.73,530.33 C459.2,529.52 459.67,528.69 460.14,527.84 C460.61,527 461.08,526.15 461.56,525.29 C462.03,524.43 462.5,523.56 462.97,522.69 C463.44,521.81 463.91,520.93 464.38,520.05 C464.86,519.17 465.33,518.28 465.8,517.4 C466.27,516.52 466.74,515.63 467.22,514.75 C467.69,513.87 468.16,512.99 468.63,512.11 C469.1,511.24 469.57,510.37 470.05,509.51 C470.52,508.65 470.99,507.8 471.46,506.96 C471.93,506.11 472.4,505.28 472.88,504.47 C473.35,503.65 473.82,502.84 474.29,502.06 C474.76,501.27 475.23,500.49 475.71,499.74 C476.18,498.99 476.65,498.25 477.12,497.53 C477.59,496.82 478.06,496.12 478.54,495.45 C479.01,494.78 479.48,494.12 479.95,493.5 C480.42,492.87 480.89,492.27 481.37,491.7 C481.84,491.12 482.31,490.57 482.78,490.06 C483.25,489.54 483.72,489.04 484.19,488.58 C484.67,488.12 485.14,487.69 485.61,487.28 C486.08,486.88 486.55,486.51 487.03,486.17 C487.5,485.83 487.97,485.53 488.44,485.25 C488.91,484.98 489.38,484.74 489.86,484.53 C490.33,484.33 490.8,484.15 491.27,484.02 C491.74,483.88 492.21,483.77 492.69,483.7 C493.16,483.63 493.66,483.61 494.1,483.6 C494.54,483.59 494.91,483.62 495.31,483.67 C495.72,483.72 496.12,483.78 496.53,483.88 C496.93,483.97 497.33,484.08 497.74,484.22 C498.14,484.36 498.55,484.52 498.95,484.7 C499.35,484.88 499.76,485.08 500.16,485.31 C500.57,485.53 500.97,485.78 501.38,486.04 C501.78,486.31 502.18,486.59 502.59,486.9 C502.99,487.21 503.4,487.53 503.8,487.88 C504.2,488.22 504.61,488.59 505.01,488.97 C505.42,489.35 505.82,489.75 506.23,490.16 C506.63,490.58 507.03,491.01 507.44,491.45 C507.84,491.9 508.25,492.36 508.65,492.83 C509.05,493.31 509.46,493.8 509.86,494.3 C510.27,494.8 510.67,495.31 511.08,495.83 C511.48,496.35 511.88,496.89 512.29,497.43 C512.69,497.97 513.1,498.52 513.5,499.08 C513.9,499.64 514.31,500.2 514.71,500.77 C515.12,501.34 515.52,501.92 515.93,502.5 C516.33,503.07 516.73,503.66 517.14,504.24 C517.54,504.83 517.95,505.41 518.35,506 C518.75,506.59 519.16,507.17 519.56,507.76 C519.97,508.34 520.37,508.93 520.77,509.5 C521.18,510.08 521.58,510.66 521.99,511.23 C522.39,511.8 522.8,512.36 523.2,512.92 C523.6,513.48 524.01,514.03 524.41,514.57 C524.82,515.11 525.22,515.65 525.62,516.17 C526.03,516.69 526.43,517.2 526.84,517.7 C527.24,518.2 527.65,518.69 528.05,519.17 C528.45,519.64 528.86,520.1 529.26,520.55 C529.67,520.99 530.07,521.42 530.48,521.84 C530.88,522.25 531.28,522.65 531.69,523.03 C532.09,523.41 532.5,523.78 532.9,524.12 C533.3,524.47 533.71,524.79 534.11,525.1 C534.52,525.41 534.92,525.69 535.33,525.96 C535.73,526.22 536.13,526.47 536.54,526.69 C536.94,526.92 537.35,527.12 537.75,527.3 C538.15,527.48 538.56,527.64 538.96,527.78 C539.37,527.92 539.77,528.03 540.18,528.12 C540.58,528.22 540.98,528.28 541.39,528.33 C541.79,528.38 542.13,528.41 542.6,528.4 C543.07,528.39 543.65,528.35 544.18,528.25 C544.7,528.15 545.23,527.99 545.75,527.79 C546.28,527.59 546.81,527.34 547.33,527.04 C547.86,526.74 548.38,526.38 548.91,525.98 C549.44,525.59 549.96,525.14 550.49,524.64 C551.01,524.15 551.54,523.61 552.07,523.02 C552.59,522.44 553.12,521.8 553.64,521.13 C554.17,520.45 554.69,519.73 555.22,518.97 C555.75,518.22 556.27,517.41 556.8,516.58 C557.32,515.74 557.85,514.86 558.38,513.95 C558.9,513.03 559.43,512.08 559.95,511.1 C560.48,510.12 561,509.1 561.53,508.06 C562.06,507.01 562.58,505.94 563.11,504.84 C563.63,503.73 564.16,502.6 564.69,501.45 C565.21,500.3 565.74,499.13 566.26,497.94 C566.79,496.74 567.31,495.53 567.84,494.3 C568.37,493.07 568.89,491.83 569.42,490.57 C569.94,489.32 570.47,488.04 571,486.77 C571.52,485.5 572.05,484.21 572.57,482.92 C573.1,481.64 573.62,480.34 574.15,479.05 C574.68,477.76 575.2,476.46 575.73,475.18 C576.25,473.89 576.78,472.6 577.31,471.33 C577.83,470.06 578.36,468.78 578.88,467.53 C579.41,466.27 579.93,465.03 580.46,463.8 C580.99,462.57 581.51,461.36 582.04,460.16 C582.56,458.97 583.09,457.8 583.62,456.65 C584.14,455.5 584.67,454.37 585.19,453.26 C585.72,452.16 586.24,451.09 586.77,450.04 C587.3,449 587.82,447.98 588.35,447 C588.87,446.02 589.4,445.07 589.93,444.15 C590.45,443.24 590.98,442.36 591.5,441.52 C592.03,440.69 592.55,439.88 593.08,439.13 C593.61,438.37 594.13,437.65 594.66,436.97 C595.18,436.3 595.71,435.66 596.24,435.08 C596.76,434.49 597.29,433.95 597.81,433.46 C598.34,432.96 598.86,432.51 599.39,432.12 C599.92,431.72 600.44,431.36 600.97,431.06 C601.49,430.76 602.02,430.51 602.55,430.31 C603.07,430.11 603.6,429.95 604.12,429.85 C604.65,429.75 605.21,429.71 605.7,429.7 C606.19,429.69 606.6,429.73 607.04,429.8 C607.49,429.86 607.94,429.96 608.38,430.09 C608.83,430.22 609.28,430.38 609.73,430.57 C610.18,430.76 610.62,430.99 611.07,431.24 C611.52,431.5 611.97,431.79 612.41,432.1 C612.86,432.42 613.31,432.76 613.75,433.14 C614.2,433.51 614.65,433.92 615.1,434.35 C615.55,434.78 615.99,435.24 616.44,435.73 C616.89,436.21 617.34,436.72 617.78,437.26 C618.23,437.8 618.68,438.36 619.12,438.94 C619.57,439.52 620.02,440.13 620.47,440.76 C620.91,441.39 621.36,442.04 621.81,442.71 C622.26,443.37 622.71,444.06 623.15,444.77 C623.6,445.47 624.05,446.19 624.5,446.93 C624.94,447.66 625.39,448.41 625.84,449.18 C626.28,449.94 626.73,450.72 627.18,451.5 C627.63,452.29 628.08,453.08 628.52,453.88 C628.97,454.69 629.42,455.5 629.87,456.31 C630.31,457.13 630.76,457.95 631.21,458.77 C631.65,459.6 632.1,460.42 632.55,461.25 C633,462.08 633.45,462.9 633.89,463.73 C634.34,464.55 634.79,465.37 635.24,466.19 C635.68,467 636.13,467.81 636.58,468.62 C637.02,469.42 637.47,470.21 637.92,471 C638.37,471.78 638.82,472.56 639.26,473.32 C639.71,474.09 640.16,474.84 640.61,475.57 C641.05,476.31 641.5,477.03 641.95,477.73 C642.39,478.44 642.84,479.13 643.29,479.79 C643.74,480.46 644.18,481.11 644.63,481.74 C645.08,482.37 645.53,482.98 645.98,483.56 C646.42,484.14 646.87,484.7 647.32,485.24 C647.76,485.78 648.21,486.29 648.66,486.77 C649.11,487.26 649.55,487.72 650,488.15 C650.45,488.58 650.9,488.99 651.35,489.36 C651.79,489.74 652.24,490.08 652.69,490.4 C653.13,490.71 653.58,491 654.03,491.26 C654.48,491.51 654.92,491.74 655.37,491.93 C655.82,492.12 656.27,492.28 656.71,492.41 C657.16,492.54 657.61,492.64 658.06,492.7 C658.5,492.77 659.18,492.78 659.4,492.8" fill="none" stroke="#4285F4" stroke-width="1.9" stroke-linejoin="round" stroke-linecap="round"/>
<rect x="406.8" y="422" width="275.1" height="155" stroke="#222222" stroke-width="1.45" fill="none" stroke-linejoin="round"/>
<line x1="406.8" y1="577" x2="410.8" y2="577" stroke="#222222" stroke-width="1.3" />
<line x1="406.8" y1="551.2" x2="413" y2="551.2" stroke="#222222" stroke-width="1.3" />
<text x="399.4" y="555.3" font-size="12.8" text-anchor="end" fill="#222222" >0.0</text>
<line x1="406.8" y1="525.4" x2="410.8" y2="525.4" stroke="#222222" stroke-width="1.3" />
<line x1="406.8" y1="499.6" x2="413" y2="499.6" stroke="#222222" stroke-width="1.3" />
<text x="399.4" y="503.7" font-size="12.8" text-anchor="end" fill="#222222" >0.1</text>
<line x1="406.8" y1="473.8" x2="410.8" y2="473.8" stroke="#222222" stroke-width="1.3" />
<line x1="406.8" y1="448" x2="413" y2="448" stroke="#222222" stroke-width="1.3" />
<text x="399.4" y="452.1" font-size="12.8" text-anchor="end" fill="#222222" >0.2</text>
<line x1="406.8" y1="422.2" x2="410.8" y2="422.2" stroke="#222222" stroke-width="1.3" />
<line x1="437.5" y1="577" x2="437.5" y2="572.8" stroke="#222222" stroke-width="1.3" />
<line x1="467.99" y1="577" x2="467.99" y2="574" stroke="#222222" stroke-width="1.3" />
<line x1="498.47" y1="577" x2="498.47" y2="572.8" stroke="#222222" stroke-width="1.3" />
<line x1="528.96" y1="577" x2="528.96" y2="574" stroke="#222222" stroke-width="1.3" />
<line x1="559.44" y1="577" x2="559.44" y2="572.8" stroke="#222222" stroke-width="1.3" />
<line x1="589.92" y1="577" x2="589.92" y2="574" stroke="#222222" stroke-width="1.3" />
<line x1="620.41" y1="577" x2="620.41" y2="572.8" stroke="#222222" stroke-width="1.3" />
<line x1="650.89" y1="577" x2="650.89" y2="574" stroke="#222222" stroke-width="1.3" />
<text x="437.5" y="593" font-size="12.8" text-anchor="middle" fill="#222222" >0</text>
<text x="498.47" y="593" font-size="12.8" text-anchor="middle" fill="#222222" >1</text>
<text x="559.44" y="593" font-size="12.8" text-anchor="middle" fill="#222222" >2</text>
<text x="620.41" y="593" font-size="12.8" text-anchor="middle" fill="#222222" >3</text>
<text x="681.38" y="593" font-size="12.8" text-anchor="middle" fill="#222222" >4</text>
<text transform="translate(367,496) rotate(-90)" text-anchor="middle" font-size="13.7" fill="#222222">Energy (eV)</text>
<text x="544.2" y="608.2" font-size="13.7" text-anchor="middle" fill="#222222" >Disfussion co-ordinate</text>
<line x1="414" y1="436.9" x2="436.8" y2="436.9" stroke="#0F9D58" stroke-width="2" />
<text x="440" y="439.9" font-size="11.8" fill="#222222" >Mg<tspan font-size="8.3" dy="3">0.03</tspan><tspan dy="-3">P</tspan></text>
<line x1="414" y1="457.8" x2="436.8" y2="457.8" stroke="#4285F4" stroke-width="2" />
<text x="440" y="460.8" font-size="11.8" fill="#222222" >Mg<tspan font-size="8.3" dy="3">0.06</tspan><tspan dy="-3">P</tspan></text>
<line x1="414" y1="478.5" x2="436.8" y2="478.5" stroke="#F4B400" stroke-width="2" />
<text x="440" y="481.5" font-size="11.8" fill="#222222" >Mg<tspan font-size="8.3" dy="3">0.12</tspan><tspan dy="-3">P</tspan></text>
<line x1="604.6" y1="528" x2="604.6" y2="567" stroke="#dc7880" stroke-width="2.1" />
<line x1="615.6" y1="528" x2="615.6" y2="567" stroke="#dc7880" stroke-width="2.1" />
<line x1="626.9" y1="528" x2="626.9" y2="534.9" stroke="#e7939a" stroke-width="1.9" />
<line x1="626.9" y1="560.3" x2="626.9" y2="567" stroke="#e7939a" stroke-width="1.9" />
<line x1="638.1" y1="528" x2="638.1" y2="567" stroke="#dc7880" stroke-width="2.1" />
<line x1="648.5" y1="528" x2="648.5" y2="567" stroke="#dc7880" stroke-width="2.1" />
<line x1="593.4" y1="534.9" x2="648.5" y2="534.9" stroke="#e7939a" stroke-width="2" />
<line x1="593.4" y1="560.3" x2="648.5" y2="560.3" stroke="#e7939a" stroke-width="2" />
<line x1="593.4" y1="534.9" x2="601.5" y2="545" stroke="#e7939a" stroke-width="1.8" />
<line x1="593.4" y1="560.3" x2="601.5" y2="549.5" stroke="#e7939a" stroke-width="1.8" />
<line x1="626.9" y1="534.9" x2="619.5" y2="543" stroke="#e7939a" stroke-width="1.8" />
<line x1="626.9" y1="534.9" x2="634.3" y2="543" stroke="#e7939a" stroke-width="1.8" />
<line x1="626.9" y1="560.3" x2="619.5" y2="551.5" stroke="#e7939a" stroke-width="1.8" />
<line x1="626.9" y1="560.3" x2="634.3" y2="551.5" stroke="#e7939a" stroke-width="1.8" />
<line x1="648.5" y1="534.9" x2="652" y2="544" stroke="#e7939a" stroke-width="1.8" />
<line x1="648.5" y1="560.3" x2="652" y2="550.5" stroke="#e7939a" stroke-width="1.8" />
<line x1="602" y1="544" x2="596.8" y2="538.8" stroke="#2a8cc8" stroke-width="1.8" />
<line x1="602" y1="551" x2="596.8" y2="556.2" stroke="#2a8cc8" stroke-width="1.8" />
<line x1="618.5" y1="544" x2="623.3" y2="538.8" stroke="#2a8cc8" stroke-width="1.8" />
<line x1="618.5" y1="551" x2="623.3" y2="556.2" stroke="#2a8cc8" stroke-width="1.8" />
<line x1="635.5" y1="544" x2="630.6" y2="538.8" stroke="#2a8cc8" stroke-width="1.8" />
<line x1="635.5" y1="551" x2="630.6" y2="556.2" stroke="#2a8cc8" stroke-width="1.8" />
<line x1="649.5" y1="544" x2="653" y2="540" stroke="#2a8cc8" stroke-width="1.8" />
<line x1="649.5" y1="551" x2="653" y2="555" stroke="#2a8cc8" stroke-width="1.8" />
<circle cx="593.4" cy="534.9" r="3" fill="url(#atomP2)"/>
<circle cx="593.4" cy="560.3" r="3" fill="url(#atomP2)"/>
<circle cx="604.6" cy="534.9" r="3" fill="url(#atomP2)"/>
<circle cx="604.6" cy="560.3" r="3" fill="url(#atomP2)"/>
<circle cx="615.6" cy="534.9" r="3" fill="url(#atomP2)"/>
<circle cx="615.6" cy="560.3" r="3" fill="url(#atomP2)"/>
<circle cx="626.9" cy="534.9" r="3" fill="url(#atomP2)"/>
<circle cx="626.9" cy="560.3" r="3" fill="url(#atomP2)"/>
<circle cx="638.1" cy="534.9" r="3" fill="url(#atomP2)"/>
<circle cx="638.1" cy="560.3" r="3" fill="url(#atomP2)"/>
<circle cx="648.5" cy="534.9" r="3" fill="url(#atomP2)"/>
<circle cx="648.5" cy="560.3" r="3" fill="url(#atomP2)"/>
<rect x="599.8" y="541.3" width="15.5" height="12.3" rx="5.6" fill="#1d78b4"/>
<rect x="633.6" y="541.6" width="17.6" height="11.8" rx="5.6" fill="#1d78b4"/>
<rect x="601" y="545.6" width="10" height="3.6" rx="1.8" fill="#35a6e0"/>
<rect x="635.5" y="546" width="14" height="3.6" rx="1.8" fill="#35a6e0"/>
<circle cx="602.8" cy="547.4" r="1" fill="#dafcff"/>
<circle cx="605.4" cy="547.4" r="1" fill="#dafcff"/>
<circle cx="608" cy="547.4" r="1" fill="#dafcff"/>
<circle cx="637.6" cy="547.8" r="1" fill="#dafcff"/>
<circle cx="640.1" cy="547.8" r="1" fill="#dafcff"/>
<circle cx="642.6" cy="547.8" r="1" fill="#dafcff"/>
<circle cx="645.1" cy="547.8" r="1" fill="#dafcff"/>
<circle cx="647.5" cy="547.8" r="1" fill="#dafcff"/>
<circle cx="615.4" cy="547.4" r="4.6" fill="url(#atomMg)"/>
<line x1="570.7" y1="547.2" x2="590" y2="547.2" stroke="#111" stroke-width="1.3" stroke-dasharray="3.7,1.3"/>
<path d="M595.8,547.2 L589.1,542.7 L591.3,547.2 L589.1,551.9 Z" fill="#111" stroke="#111" stroke-width="0.5" stroke-linejoin="round"/>
<line x1="659.5" y1="547.2" x2="680" y2="547.2" stroke="#111" stroke-width="1.3" stroke-dasharray="3.7,1.3"/>
<path d="M654.2,547.2 L660.9,542.7 L658.7,547.2 L660.9,551.9 Z" fill="#111" stroke="#111" stroke-width="0.5" stroke-linejoin="round"/></svg></body></html>
